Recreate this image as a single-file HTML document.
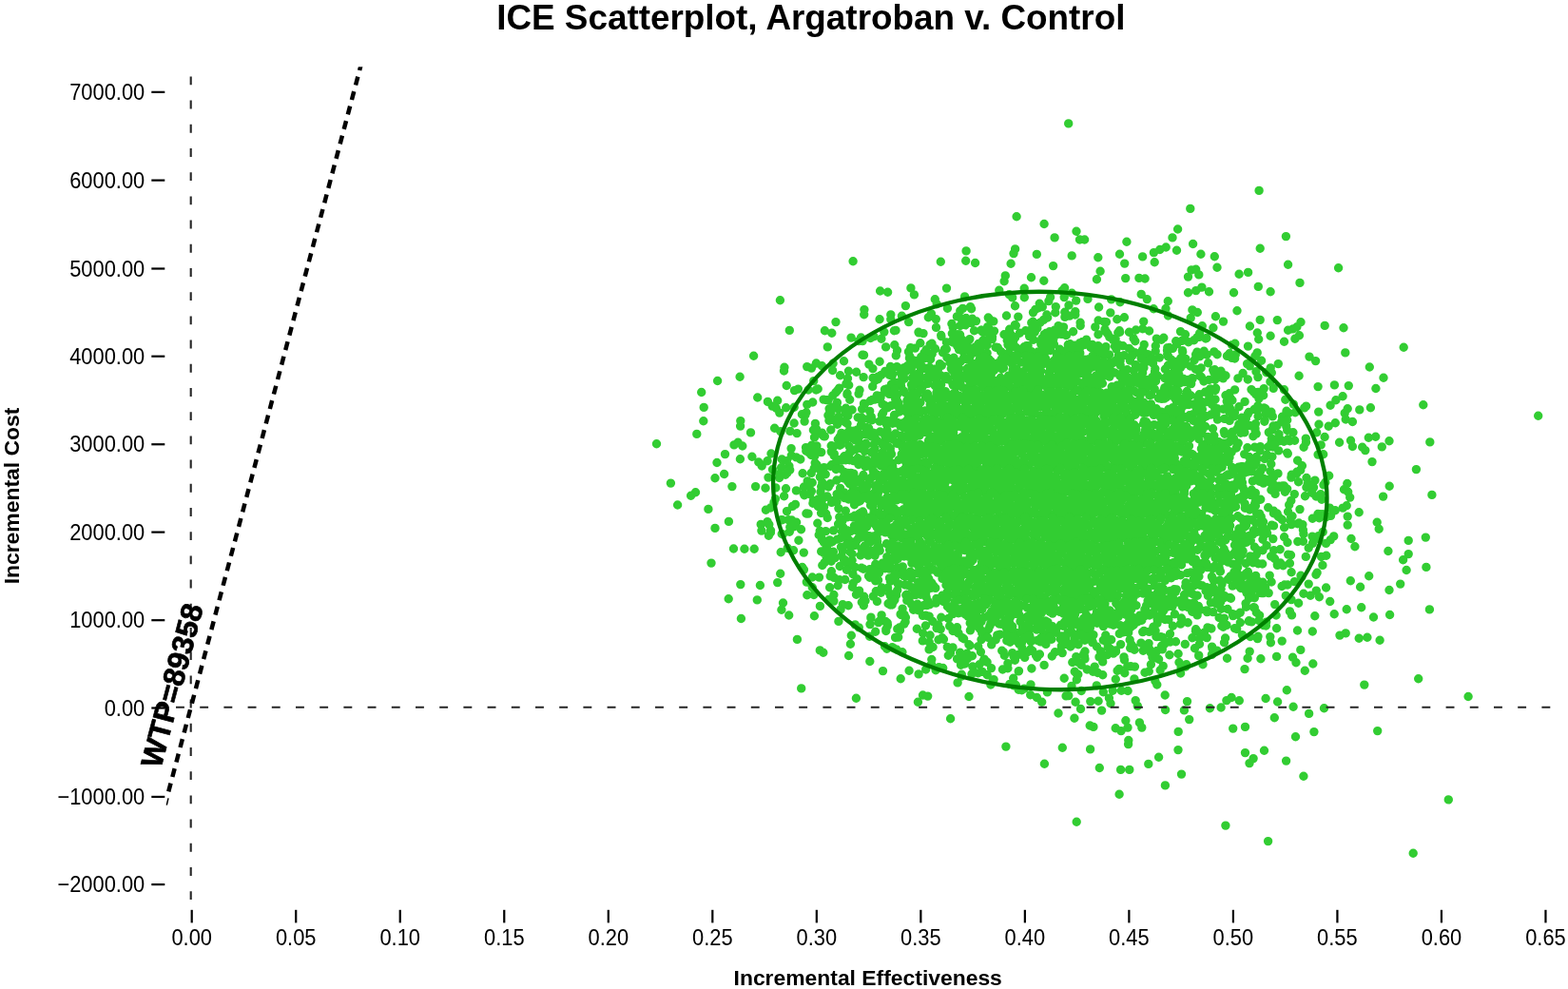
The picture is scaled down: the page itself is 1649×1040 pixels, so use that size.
<!DOCTYPE html>
<html lang="en">
<head>
<meta charset="utf-8">
<title>ICE Scatterplot, Argatroban v. Control</title>
<style>
html,body{margin:0;padding:0;background:#fff;}
body{width:1649px;height:1040px;overflow:hidden;}
svg{display:block;font-family:"Liberation Sans",sans-serif;}
.tk{font-size:23.8px;fill:#000;}
.b{font-weight:bold;fill:#000;}
</style>
</head>
<body>
<svg width="1649" height="1040" viewBox="0 0 1649 1040">
<rect width="1649" height="1040" fill="#fff"/>
<text class="b" transform="translate(852.8 30.9) scale(0.978 1)" font-size="37.7" text-anchor="middle">ICE Scatterplot, Argatroban v. Control</text>
<text class="b" transform="translate(912.7 1036.3) scale(1.017 1)" font-size="22.5" text-anchor="middle">Incremental Effectiveness</text>
<text class="b" transform="translate(20.3 521.5) rotate(-90)" font-size="22.9" text-anchor="middle">Incremental Cost</text>
<g stroke="#000" stroke-width="2.2" stroke-linecap="butt">
<line x1="159.3" y1="930.10" x2="173.3" y2="930.10"/>
<line x1="159.3" y1="837.90" x2="173.3" y2="837.90"/>
<line x1="159.3" y1="744.50" x2="173.3" y2="744.50"/>
<line x1="159.3" y1="652.20" x2="173.3" y2="652.20"/>
<line x1="159.3" y1="559.60" x2="173.3" y2="559.60"/>
<line x1="159.3" y1="467.25" x2="173.3" y2="467.25"/>
<line x1="159.3" y1="374.70" x2="173.3" y2="374.70"/>
<line x1="159.3" y1="282.50" x2="173.3" y2="282.50"/>
<line x1="159.3" y1="189.60" x2="173.3" y2="189.60"/>
<line x1="159.3" y1="96.85" x2="173.3" y2="96.85"/>
<line x1="201.70" y1="956.8" x2="201.70" y2="970.4"/>
<line x1="311.22" y1="956.8" x2="311.22" y2="970.4"/>
<line x1="420.74" y1="956.8" x2="420.74" y2="970.4"/>
<line x1="530.26" y1="956.8" x2="530.26" y2="970.4"/>
<line x1="639.78" y1="956.8" x2="639.78" y2="970.4"/>
<line x1="749.30" y1="956.8" x2="749.30" y2="970.4"/>
<line x1="858.82" y1="956.8" x2="858.82" y2="970.4"/>
<line x1="968.34" y1="956.8" x2="968.34" y2="970.4"/>
<line x1="1077.86" y1="956.8" x2="1077.86" y2="970.4"/>
<line x1="1187.38" y1="956.8" x2="1187.38" y2="970.4"/>
<line x1="1296.90" y1="956.8" x2="1296.90" y2="970.4"/>
<line x1="1406.42" y1="956.8" x2="1406.42" y2="970.4"/>
<line x1="1515.94" y1="956.8" x2="1515.94" y2="970.4"/>
<line x1="1625.46" y1="956.8" x2="1625.46" y2="970.4"/>
</g>
<g class="tk" text-anchor="end">
<text transform="translate(152.3 105.05) scale(0.92 1)">7000.00</text>
<text transform="translate(152.3 197.80) scale(0.92 1)">6000.00</text>
<text transform="translate(152.3 290.70) scale(0.92 1)">5000.00</text>
<text transform="translate(152.3 382.90) scale(0.92 1)">4000.00</text>
<text transform="translate(152.3 475.45) scale(0.92 1)">3000.00</text>
<text transform="translate(152.3 567.80) scale(0.92 1)">2000.00</text>
<text transform="translate(152.3 660.40) scale(0.92 1)">1000.00</text>
<text transform="translate(152.3 752.70) scale(0.92 1)">0.00</text>
<text transform="translate(152.3 846.10) scale(0.92 1)">−1000.00</text>
<text transform="translate(152.3 938.30) scale(0.92 1)">−2000.00</text>
</g>
<g class="tk" text-anchor="middle">
<text transform="translate(201.70 993.8) scale(0.92 1)">0.00</text>
<text transform="translate(311.22 993.8) scale(0.92 1)">0.05</text>
<text transform="translate(420.74 993.8) scale(0.92 1)">0.10</text>
<text transform="translate(530.26 993.8) scale(0.92 1)">0.15</text>
<text transform="translate(639.78 993.8) scale(0.92 1)">0.20</text>
<text transform="translate(749.30 993.8) scale(0.92 1)">0.25</text>
<text transform="translate(858.82 993.8) scale(0.92 1)">0.30</text>
<text transform="translate(968.34 993.8) scale(0.92 1)">0.35</text>
<text transform="translate(1077.86 993.8) scale(0.92 1)">0.40</text>
<text transform="translate(1187.38 993.8) scale(0.92 1)">0.45</text>
<text transform="translate(1296.90 993.8) scale(0.92 1)">0.50</text>
<text transform="translate(1406.42 993.8) scale(0.92 1)">0.55</text>
<text transform="translate(1515.94 993.8) scale(0.92 1)">0.60</text>
<text transform="translate(1625.46 993.8) scale(0.92 1)">0.65</text>
</g>
<g fill="none" stroke="#32cd32" stroke-width="9.40" stroke-linecap="round">
<path d="M1123.7 129.9h0M1324.1 200.4h0M1251.8 219.4h0M1069.1 227.8h0M1098.1 235.5h0M1238.6 241h0M1132 243.3h0M1352.4 248.6h0M1109.1 249.9h0M1233 249.9h0M1135.5 252h0M1140.6 252h0M1184.9 254.2h0M1254.6 256.5h0M1226.2 260h0M1325.2 261.2h0M1067.6 261.9h0M1219.8 262.5h0M1237.5 263.3h0M1016.1 263.9h0M1213.4 265.6h0M1066 266.6h0M1177.5 267.2h0M1262.9 267.2h0M1090.3 267.4h0M1127.2 268.9h0M1277.3 269.7h0M1201.6 269.9h0M1154.8 270.7h0M1015.7 274.2h0M897.1 274.8h0M989.3 275.3h0M1214.2 275.7h0M1025.6 276.5h0M1182.7 277.1h0M1063.1 277.3h0M1354.6 278.2h0M1107.6 279.6h0M1280 281.2h0M1407.6 281.8h0M1257.7 283.3h0M1253 283.9h0M1157.1 285.2h0M1312.6 286.4h0M1303.1 288.2h0M1260.8 288.9h0M1057.3 289.9h0M1249.5 291.1h0M1084.5 291.8h0M1197.9 292.4h0M1183.7 292.6h0M1204.1 293h0M1153.4 293.8h0M1097.8 295.3h0M1056.1 295.7h0M1367 297.4h0M1323.3 301.4h0M1263.9 302.1h0M1119.6 302.7h0M957.9 302.9h0M995.5 303.1h0M1077.2 303.2h0M1050.8 305.3h0M1257.7 305.6h0M1116.9 305.7h0M925.6 306h0M1271.5 306.8h0M1336.1 306.8h0M933.6 307.2h0M1249.5 307.8h0M1297.5 307.8h0M1127.2 308.3h0M1200.2 309.4h0M1061.3 309.8h0M961.4 309.9h0M1014.6 311.9h0M1104.6 312.5h0M1119.2 312.6h0M1077.3 312.8h0M1064.7 312.9h0M1144 314.4h0M1206.3 314.6h0M983.3 314.8h0M1168.7 314.9h0M820.4 315.7h0M1131.7 316.1h0M1102.9 316.6h0M1228.3 316.8h0M1178 317.8h0M1093.2 319.2h0M985.2 319.7h0M1124 321h0M952.4 321.6h0M1067.5 321.7h0M1110.3 322.6h0M1020.5 322.6h0M1096.3 322.7h0M1155.6 323h0M1092.3 323.8h0M996.4 324.3h0M1012.5 324.4h0M1226 324.5h0M1213.2 324.7h0M1021.6 324.8h0M1088.8 325.5h0M908.9 325.6h0M1253.9 325.9h0M1301 326.7h0M1009.8 326.9h0M1130.8 327.6h0M1119.8 328.2h0M1259.3 328.5h0M1086.5 328.6h0M1109.8 328.8h0M1167.8 328.9h0M979.4 329.9h0M908.7 330.7h0M936.8 330.9h0M1130.8 331h0M1100.9 331h0M1058.5 332h0M1228.5 332h0M1124.9 332.1h0M948.4 332.2h0M1278.4 332.8h0M1006.4 332.9h0M1070.8 333.1h0M1119.9 333.4h0M1182.4 333.7h0M976.3 333.8h0M1101.7 334h0M1039.3 334h0M1039.3 334.1h0M1252.2 334.4h0M1016 334.5h0M1040 334.9h0M1022.6 335.2h0M1011.1 335.4h0M984.3 335.6h0M925.1 335.7h0M936.8 335.8h0M1174.8 335.8h0M1097.5 336.4h0M1325.2 336.4h0M1343.3 336.6h0M1155.1 337h0M1026.5 337.6h0M1044.8 337.9h0M1202.7 338.1h0M1286.5 338.1h0M1086.3 338.2h0M1161.2 338.5h0M879 338.6h0M955.6 338.6h0M1163.4 338.6h0M1368 338.7h0M1093.9 339.2h0M1136.1 339.3h0M1084.8 339.4h0M1021.6 339.6h0M1000.9 340.5h0M1067.4 341.6h0M1015.3 341.8h0M1068.3 342.2h0M1393.2 342.4h0M1136.2 342.5h0M1009.8 342.5h0M1113.1 342.6h0M1264.3 342.8h0M1314.4 343h0M1038.7 343.6h0M1363.9 343.8h0M1151.8 343.9h0M1118.5 343.9h0M1002.2 344.2h0M984.5 344.4h0M1275.9 344.8h0M1413 344.8h0M1090.8 345.2h0M1201.7 345.8h0M1359.8 345.9h0M1040.3 346h0M1061.7 346.2h0M1162 346.4h0M1084.6 346.5h0M1194.6 347h0M1108.9 347.3h0M1032.2 347.3h0M1031.8 347.3h0M1354.6 347.3h0M942 347.4h0M1117.7 347.4h0M830.3 347.4h0M1031.6 347.5h0M1177.3 347.8h0M1078.6 347.8h0M1024.5 347.8h0M867.4 347.8h0M940.4 347.8h0M1208.6 348h0M1045.5 348.1h0M1103.9 348.6h0M1241.5 348.6h0M1128.6 348.8h0M1088.3 349.1h0M1163.5 349.1h0M929.8 349.1h0M966 349.2h0M1177.7 349.2h0M1187.5 349.2h0M1033.6 349.3h0M966.3 349.9h0M1175.8 349.9h0M1322.3 350h0M1100.5 350.1h0M1039.1 350.1h0M1072.4 350.2h0M874.8 350.3h0M1261.6 350.5h0M971 350.6h0M1001.3 350.8h0M1165.1 351.2h0M1115.9 351.4h0M1062.9 351.6h0M1098.3 351.6h0M1056 351.7h0M1246.5 351.7h0M1155 351.8h0M1007.2 351.8h0M1110.9 351.9h0M1009.6 352h0M1120.9 352.5h0M989.7 352.5h0M1121.5 352.5h0M1366.4 352.7h0M1104.5 353h0M1336.1 353.3h0M1082.6 353.6h0M989.9 353.7h0M918.9 353.9h0M1043.5 354.2h0M1261.4 354.4h0M1166.8 354.4h0M1259.1 354.6h0M1067.6 354.9h0M905.5 355h0M895.1 355.1h0M1223.8 355.2h0M915.5 355.5h0M1268.9 355.5h0M1095.8 355.8h0M1192.1 355.9h0M1268 356h0M1216.3 356.1h0M1361.9 356.2h0M926.9 356.2h0M1107.8 356.4h0M1173.1 356.4h0M1043.4 356.6h0M1019.8 356.6h0M1323.7 356.8h0M1011.6 357h0M1142.5 357.1h0M1221.4 357.2h0M1002.1 357.2h0M1086.8 357.3h0M1004.2 357.4h0M1170.8 357.7h0M1039.1 357.7h0M1255.7 357.8h0M1018.8 357.9h0M1059.2 358h0M1065.7 358h0M1033.8 358h0M1104.9 358.2h0M1098.4 358.4h0M1243 358.4h0M903.1 358.6h0M907.1 358.6h0M1236.7 358.8h0M1193.8 358.8h0M1350.5 359.3h0M1138.5 359.4h0M1249.9 359.7h0M1002.1 360h0M995.4 360h0M1011.3 360.8h0M1135.5 360.8h0M967.8 360.8h0M1094.8 360.9h0M980 361.2h0M1298.8 361.3h0M1029 361.5h0M1237.8 361.7h0M1125.4 361.8h0M1094.8 362h0M1108.4 362h0M978.2 362.4h0M1203.2 362.4h0M1123.3 362.5h0M1148.9 362.5h0M1140.1 362.6h0M1060 362.6h0M1176.6 362.6h0M940.8 362.8h0M1295.6 362.8h0M1038.1 362.9h0M1066.3 363.1h0M1130.2 363.3h0M1154.9 363.6h0M1081.1 363.6h0M1079.3 363.7h0M1181 363.8h0M1215.3 363.8h0M1006.8 363.9h0M1312.5 364.1h0M1172.5 364.3h0M1163 364.6h0M1077.1 364.7h0M931.6 364.9h0M870.3 364.9h0M1025.5 365h0M1476.2 365.2h0M1047.1 365.2h0M1229.6 365.5h0M1147.1 365.5h0M1049.3 365.5h0M1227.8 365.6h0M957.6 365.6h0M1017.6 365.7h0M1062.4 365.8h0M1101.9 365.8h0M1069.2 366h0M962.4 366.1h0M1019.5 366.2h0M1162.5 366.2h0M1187.4 366.4h0M1233.3 366.4h0M1031.1 366.6h0M1123 366.6h0M983.5 366.8h0M1174 367.1h0M1114.5 367.2h0M995.3 367.3h0M1135.2 367.4h0M993.4 367.4h0M1008.5 367.6h0M974.1 367.8h0M1201.6 367.8h0M1017.7 368.1h0M1159.9 368.2h0M1227.5 368.4h0M1153 368.5h0M1104.7 368.5h0M943.5 368.5h0M1243.4 368.6h0M1095.7 368.9h0M1190 369h0M1012.5 369.2h0M1266.2 369.2h0M1128.4 369.2h0M1215.2 369.3h0M1071.8 369.5h0M1084.6 369.6h0M1052.5 369.6h0M1276.8 369.9h0M955.5 369.9h0M1091.7 370h0M1243.7 370.1h0M1259 370.1h0M1029.1 370.5h0M1193.4 370.7h0M991.5 370.8h0M1322.2 370.9h0M1024.4 370.9h0M1414.8 370.9h0M972 371.1h0M1038.1 371.3h0M1135.8 371.4h0M1198.7 371.5h0M1116.7 371.5h0M1078 371.5h0M1293 371.7h0M1112 371.8h0M1156.2 372.1h0M980.2 372.2h0M1191.7 372.3h0M1057.3 372.4h0M1227.7 372.6h0M1161.5 372.6h0M1207.1 372.6h0M1257.6 372.7h0M1280.1 372.7h0M1098.1 372.8h0M1299.3 372.9h0M1269.2 372.9h0M1166.4 372.9h0M1268.8 373h0M1062.4 373.2h0M907 373.3h0"/>
<path d="M908.5 373.4h0M1132.7 373.7h0M1182.1 373.7h0M942.3 373.9h0M1070 373.9h0M1176.2 374h0M1149.1 374.1h0M1111.4 374.1h0M1067.3 374.2h0M792.6 374.2h0M1190.7 374.3h0M1078.5 374.3h0M1290.5 374.4h0M1319.9 374.5h0M1124.3 374.5h0M1083.5 374.7h0M1261.9 374.7h0M1092 374.8h0M1228.5 374.9h0M956.8 374.9h0M1377 375.1h0M1020 375.3h0M968.7 375.4h0M1035 375.4h0M996 376h0M1219.3 376.1h0M1013.7 376.1h0M1003.1 376.3h0M1295.5 376.4h0M1057.5 376.4h0M956.4 376.6h0M1200.1 376.6h0M1211.4 376.7h0M972.3 376.7h0M1241.7 376.7h0M1298.6 377h0M1099.7 377.3h0M1115.8 377.3h0M1246.9 377.4h0M1016.6 377.4h0M1030.3 377.6h0M978.1 377.6h0M1053.1 377.7h0M1144.8 377.8h0M978.6 377.8h0M1040.3 378h0M1153.4 378h0M1231.9 378.2h0M1140.8 378.3h0M1065 378.7h0M1256.1 378.8h0M1188.4 379.1h0M961.5 379.1h0M1108.5 379.2h0M1326.6 379.2h0M1127.3 379.3h0M1172.8 379.4h0M1098.5 379.5h0M1178.1 379.6h0M1383.6 379.6h0M887.5 379.7h0M1084.4 379.8h0M1138.7 379.9h0M1206.7 379.9h0M1160.8 379.9h0M1042.1 379.9h0M1010.5 380h0M925.1 380.2h0M1238.2 380.3h0M1119.5 380.6h0M1080.4 380.6h0M1062.9 380.6h0M1028.4 381h0M1139.2 381.1h0M1073 381.1h0M999 381.3h0M1167 381.5h0M1170.7 381.5h0M1034.2 381.5h0M1115.4 381.5h0M1049.8 381.6h0M1270.6 381.8h0M1090.7 381.9h0M1212.5 382h0M858.4 382h0M1132.3 382.1h0M1022.2 382.1h0M1055.3 382.2h0M968 382.3h0M876.1 382.3h0M988.4 382.6h0M1344.3 382.6h0M1311.6 382.6h0M1025.1 382.6h0M1097.4 382.7h0M1064.4 382.8h0M1146.4 383h0M1104.7 383h0M913.9 383.1h0M1244.6 383.3h0M1154.7 383.8h0M1194.2 383.8h0M1134.3 383.9h0M1005 383.9h0M1084.8 384h0M960.4 384h0M1178.2 384.1h0M1236.6 384.2h0M1228.4 384.3h0M990.3 384.4h0M1106.7 384.6h0M954.3 384.7h0M967.3 384.7h0M864.4 384.8h0M1201.3 384.9h0M1314.2 384.9h0M1117.2 384.9h0M1251.9 385h0M1162.9 385.3h0M936.4 385.5h0M848.7 385.6h0M943.2 385.6h0M1092.2 385.7h0M1166.9 385.7h0M1123.6 385.9h0M1033.4 386h0M1440.3 386h0M1055.2 386.1h0M824.9 386.2h0M1148.2 386.3h0M977.7 386.4h0M1027 386.4h0M1194.8 386.5h0M1036.1 386.6h0M1018 386.7h0M1241.4 386.7h0M1202.9 386.8h0M1336.2 386.9h0M1055.4 386.9h0M1263.1 387h0M950.3 387h0M972.8 387.1h0M853.4 387.1h0M1079.6 387.3h0M1008.5 387.3h0M1018.3 387.3h0M1039 387.4h0M971.2 387.5h0M1000.3 387.6h0M917.9 387.6h0M1045.7 387.6h0M1104.6 387.6h0M1214.8 387.8h0M1016.9 387.9h0M984.1 388h0M1109.9 388h0M1053.6 388h0M1257.4 388.2h0M1225.4 388.3h0M1140.9 388.5h0M1235.7 388.5h0M1127.4 388.5h0M958.2 388.6h0M1069.3 388.6h0M1277.5 388.7h0M1185.5 388.7h0M1065.1 388.8h0M1001.2 389h0M1156 389h0M986.3 389.1h0M1275.7 389.1h0M1144.5 389.2h0M1045.4 389.5h0M875.6 389.5h0M1122 389.7h0M1192.4 389.8h0M824.5 390h0M1040.5 390.1h0M1094.8 390.2h0M1284 390.2h0M892.4 390.3h0M1135.4 390.4h0M930.7 390.5h0M1002.9 390.6h0M952.4 390.7h0M1321 390.8h0M1214.5 390.8h0M1003.5 390.8h0M1169.9 391h0M1075.7 391h0M900.6 391.2h0M1103.4 391.4h0M1276.7 391.6h0M1086.9 391.7h0M1331.9 391.8h0M1172.2 391.9h0M1158.9 391.9h0M1337.3 392h0M1201.6 392.1h0M977.4 392.1h0M1180 392.2h0M983.7 392.3h0M1113.9 392.3h0M1025.2 392.4h0M966.4 392.4h0M947.5 392.4h0M1307.1 392.5h0M1138.7 392.5h0M1029.3 392.6h0M1017.8 393h0M1134.5 393.1h0M1231.5 393.2h0M938.8 393.3h0M1116.6 393.4h0M1233.8 393.5h0M1122.5 393.6h0M1239.8 393.9h0M1103.6 393.9h0M1068 394h0M1181.3 394.1h0M935.3 394.2h0M1163.7 394.3h0M966.8 394.4h0M1042.2 394.5h0M926.7 394.5h0M1011.9 394.6h0M1143.6 394.7h0M883.6 394.7h0M1084.2 394.8h0M964.1 394.9h0M1162.4 394.9h0M989.4 394.9h0M1289 395h0M1060.6 395.1h0M1261.9 395.1h0M1004.1 395.2h0M1227.8 395.2h0M1152.3 395.2h0M1366.1 395.3h0M1217.5 395.3h0M1112.2 395.3h0M938.1 395.3h0M1033.7 395.3h0M1178 395.4h0M994.9 395.7h0M1025.9 395.8h0M948.7 395.8h0M1078.2 395.9h0M1127.7 395.9h0M1194.2 396h0M1094.2 396h0M986.8 396.1h0M1166.9 396.1h0M778.1 396.2h0M923.2 396.3h0M1212 396.4h0M1263.4 396.5h0M1322.9 396.6h0M908.1 396.6h0M1087.6 396.7h0M1281.3 396.8h0M974.4 397h0M959.7 397.1h0M981.3 397.2h0M1052.3 397.2h0M1455 397.3h0M918.1 397.4h0M1144.6 397.4h0M1187 397.4h0M1253.9 397.6h0M1102.2 397.7h0M1224.9 397.7h0M949 397.8h0M1286.3 397.9h0M1112.1 397.9h0M1301.9 397.9h0M891.5 398h0M983.4 398h0M994.2 398.1h0M1244.3 398.1h0M1073.6 398.2h0M951.2 398.2h0M1142.3 398.5h0M1067.3 398.5h0M1254 398.5h0M1202 398.7h0M923.3 398.7h0M996.6 398.9h0M1312.3 399h0M1155.1 399h0M1018.7 399.1h0M1277.8 399.2h0M966.4 399.2h0M1249.3 399.4h0M1206.6 399.4h0M1104.8 399.4h0M1271.5 399.4h0M1081.4 399.9h0M920.2 400.2h0M1128.1 400.3h0M1132.7 400.5h0M1046.6 400.5h0M754.6 400.5h0M1095.7 400.6h0M855.7 400.6h0M1215.5 400.7h0M1235.6 400.8h0M1116.6 400.8h0M1010.1 400.9h0M1266 401h0M1122.7 401.2h0M1180.4 401.3h0M1038.1 401.4h0M1335.9 401.4h0M1245.7 401.6h0M1230.3 402h0M1139.9 402.2h0M1056.3 402.2h0M1102.5 402.2h0M1147.5 402.2h0M1030.2 402.3h0M1190.9 402.3h0M1078.2 402.4h0M947.4 402.4h0M943.3 402.5h0M1089.6 402.5h0M961.4 402.8h0M1189.1 402.8h0M1240.8 402.9h0M1048.6 402.9h0M1250.7 402.9h0M1186.9 402.9h0M1055 403h0M1061.3 403.1h0M1197.5 403.2h0M1159.4 403.3h0M1023 403.3h0M975.9 403.4h0M889.9 403.6h0M1001.9 403.6h0M1252.7 403.6h0M1004.4 403.7h0M1020.3 404h0M937.5 404.1h0M1238.6 404.1h0M989.7 404.4h0M1138.6 404.4h0M1070.5 404.5h0M958.5 404.5h0M1107.3 404.8h0M971.3 404.9h0M1403.4 404.9h0M1228.3 405h0M892.7 405h0M1002.4 405.2h0M1174.8 405.2h0M1209.5 405.2h0M827.2 405.5h0M1094.2 405.5h0M1418.3 405.6h0M967.6 405.6h0M983.4 405.7h0M1200.9 406h0M1039.7 406h0M1178.5 406.1h0M1113.7 406.2h0M1060.3 406.2h0M947.6 406.2h0M1005.6 406.3h0M1084.5 406.3h0M917.7 406.4h0M1153.9 406.5h0M1386.1 406.6h0M1169.2 406.7h0M1122.4 406.9h0M1044.7 406.9h0M969.7 407.4h0M1012.2 407.4h0M1032.7 407.4h0M1062.8 407.6h0M1224.9 407.6h0M1130 408h0M1144.8 408.1h0M882.7 408.1h0M1205.8 408.2h0M959.1 408.3h0M1278.6 408.3h0M1339.2 408.4h0M1446.9 408.5h0M1101.6 408.5h0M1227 408.6h0M1083 408.6h0M1329.2 408.6h0M1272.8 408.9h0M1016.1 408.9h0M987.7 408.9h0M1137.6 409h0M932.6 409h0M860.2 409h0M839.4 409.1h0"/>
<path d="M1214.2 409.1h0M941 409.5h0M1316 409.6h0M930.4 409.6h0M1234.6 409.7h0M1091.7 409.8h0M1350.5 409.8h0M1298.6 409.9h0M850.1 410h0M1224.2 410h0M858.2 410h0M1025.7 410h0M904 410.2h0M967.5 410.2h0M1132.7 410.2h0M1051 410.2h0M1278 410.5h0M1075.7 410.5h0M1039.7 410.6h0M1184.2 410.6h0M835.5 410.6h0M1192.5 410.7h0M1048.4 410.8h0M1055.5 410.8h0M880.4 411h0M950.3 411.1h0M1187.3 411.2h0M1020.2 411.3h0M1248.4 411.5h0M1142.7 411.5h0M1270 411.6h0M1112.9 411.6h0M994.3 411.6h0M1067.8 411.6h0M1175.2 411.8h0M1239.1 411.8h0M1150 411.9h0M1105.8 412h0M1170.5 412h0M1318.5 412.2h0M1103.2 412.3h0M1072.1 412.3h0M991 412.3h0M1267.4 412.3h0M1119.7 412.4h0M1323.1 412.4h0M737.7 412.5h0M1156.9 412.6h0M1195.4 412.6h0M1200.8 412.6h0M879 412.6h0M985 412.7h0M951.4 412.8h0M1164 413.1h0M1004.4 413.1h0M1040.2 413.2h0M1089.3 413.3h0M1027 413.3h0M1222 413.4h0M891 413.7h0M1292.8 413.8h0M1127.9 414h0M903.1 414.1h0M1002.6 414.1h0M959.8 414.1h0M975.5 414.3h0M935.2 414.4h0M1220.6 414.5h0M964.7 414.6h0M1320.8 414.7h0M1015.6 414.7h0M1261.3 414.8h0M890.9 414.9h0M943.5 415.1h0M1068.4 415.1h0M1095.6 415.1h0M1247.6 415.2h0M1138 415.3h0M1210.7 415.3h0M939.8 415.3h0M1057.7 415.4h0M1271.6 415.5h0M1199.1 415.5h0M1251.9 415.6h0M1208.8 415.6h0M975.9 415.6h0M1034 415.6h0M1001.8 415.7h0M1328.7 415.8h0M1289 415.8h0M1063.8 415.9h0M922.3 415.9h0M1111.4 415.9h0M1229.6 416h0M875.8 416h0M1160.8 416.1h0M1118.4 416.1h0M926.2 416.2h0M1008.8 416.2h0M1181.5 416.2h0M1260.3 416.4h0M1081 416.5h0M1086.2 416.6h0M1412.1 416.7h0M1120.4 416.9h0M973.4 417h0M1077.7 417h0M1187.2 417.2h0M1018.6 417.2h0M1052.5 417.4h0M1046.7 417.6h0M995.1 417.8h0M1226.4 418h0M1167.7 418h0M796.7 418h0M926 418.1h0M1035.1 418.3h0M1152.5 418.3h0M1064.5 418.3h0M1137.2 418.3h0M1148.6 418.6h0M1026.4 418.6h0M1218.4 418.8h0M1271.8 418.9h0M955 419h0M1235.8 419h0M1294.3 419h0M1323.9 419.1h0M1224.5 419.1h0M1129.7 419.2h0M1260 419.4h0M1241.8 419.4h0M1221.8 419.4h0M1102.3 419.6h0M981.3 419.7h0M1173.8 419.7h0M976.8 419.8h0M961.5 419.8h0M925 419.8h0M1145.2 419.9h0M941.7 419.9h0M1111.4 419.9h0M1278 419.9h0M1011.5 419.9h0M1018.9 420h0M1248.5 420h0M1106.9 420.1h0M1184.3 420.1h0M919.9 420.1h0M988.3 420.1h0M866.1 420.1h0M1351.8 420.3h0M893.7 420.3h0M1082.9 420.3h0M1059.3 420.3h0M871.2 420.4h0M1074.9 420.4h0M917.3 420.5h0M1043.6 420.5h0M869.1 420.6h0M1404.9 420.8h0M1295.9 421h0M1007.6 421.2h0M953.9 421.2h0M817.7 421.3h0M1030.5 421.4h0M1190.3 421.4h0M915.4 421.5h0M1237.2 421.6h0M943.5 421.6h0M1142 421.7h0M1093.1 421.8h0M1161.4 422h0M1017.6 422.1h0M1290.2 422.1h0M1097.6 422.1h0M1263.2 422.1h0M1195.5 422.2h0M1144.7 422.2h0M1125.1 422.2h0M807.4 422.4h0M1309.1 422.4h0M1155.7 422.6h0M1069.1 422.6h0M1128.6 422.7h0M1039.1 422.9h0M1267.4 423h0M854.7 423h0M1001 423h0M963.7 423.1h0M1134.6 423.1h0M1202.8 423.2h0M967.9 423.3h0M880.4 423.4h0M1015.3 423.4h0M1053.2 423.5h0M1118.6 423.7h0M944.9 423.7h0M1124.4 424h0M1262.3 424.2h0M1179.5 424.3h0M908.5 424.4h0M1049.7 424.5h0M1060.2 424.7h0M1005.6 424.9h0M928 424.9h0M1210.4 424.9h0M1087.3 425h0M1000.6 425h0M909.4 425h0M1360.3 425.1h0M1254.6 425.2h0M1042.1 425.2h0M978.2 425.2h0M1147.7 425.3h0M1274.5 425.3h0M848.8 425.4h0M992.4 425.5h0M1250.3 425.5h0M1026 425.5h0M879.5 425.7h0M1496.8 425.8h0M1205.3 425.8h0M988.6 425.8h0M1078.5 425.9h0M1246 425.9h0M1030.4 425.9h0M1399.1 426.2h0M1191.6 426.3h0M1109.9 426.3h0M930.4 426.4h0M1168.1 426.5h0M937 426.6h0M958 426.7h0M954 426.8h0M1322.8 426.9h0M944 427h0M1101.7 427h0M1373.6 427.1h0M812.2 427.1h0M1072.9 427.5h0M1197.6 427.6h0M983.6 427.6h0M1292.7 427.7h0M1303 427.8h0M1171.4 427.8h0M1094.2 428h0M1243.2 428h0M1277.1 428.1h0M835.2 428.2h0M740.2 428.4h0M1234.5 428.5h0M1117.6 428.5h0M874.6 428.5h0M1184.5 428.6h0M1441.4 428.7h0M933.5 428.7h0M1055.1 428.7h0M1233.2 428.8h0M826.7 428.8h0M1371.8 428.9h0M1132.6 429h0M1329.3 429h0M996.3 429h0M1137.3 429.1h0M816.3 429.2h0M889.6 429.2h0M1151.9 429.2h0M1064.2 429.4h0M965.9 429.4h0M1280.3 429.7h0M1330.8 429.7h0M1417.2 429.7h0M872.1 429.7h0M1110.2 429.7h0M1216.1 429.7h0M1018.6 429.8h0M1012.9 429.9h0M1119.8 429.9h0M881.6 430h0M1293.9 430h0M1034.8 430h0M1164.6 430h0M949.6 430h0M1258.4 430.1h0M1160 430.1h0M906.6 430.2h0M1286.5 430.3h0M1140.1 430.3h0M1319.2 430.4h0M1322.8 430.4h0M1241.9 430.5h0M1228.8 430.5h0M1264.4 430.5h0M1177.9 430.6h0M995 430.6h0M1070.5 430.7h0M1210.8 430.9h0M1429.8 430.9h0M1126.3 431h0M1193.2 431h0M896.1 431h0M1020.3 431h0M1007.9 431.1h0M1083.3 431.2h0M960.6 431.4h0M1045 431.5h0M1147.5 431.6h0M1158.6 431.6h0M951.2 431.7h0M973 431.9h0M978.9 432.1h0M1353 432.2h0M1003.9 432.2h0M990.1 432.2h0M914.7 432.4h0M1027.8 432.7h0M1168.7 432.9h0M1261.3 432.9h0M1200.5 432.9h0M1048.1 433h0M945.9 433h0M1386.7 433.1h0M1011.1 433.1h0M1221.4 433.1h0M1037.9 433.2h0M1241.6 433.2h0M1088 433.2h0M1336.9 433.2h0M1080 433.2h0M1062.5 433.4h0M1113.3 433.4h0M1292.9 433.5h0M1313.3 433.5h0M1362.1 433.8h0M847.9 433.8h0M967.4 433.9h0M872.5 433.9h0M1138.3 433.9h0M1205.8 434h0M1152.2 434.1h0M1202.2 434.1h0M1298.4 434.1h0M819.8 434.1h0M954.2 434.2h0M1016.8 434.3h0M873.8 434.3h0M928.6 434.3h0M1331.1 434.4h0M1184.8 434.4h0M1414.2 434.4h0M1355.3 434.4h0M1072 434.5h0M1106.3 434.6h0M889.1 434.6h0M1099.9 434.7h0M1055.2 434.9h0M1334.8 435h0M999.9 435h0M1194.6 435.1h0M983.9 435.2h0M1278.9 435.2h0M1172.6 435.3h0M1312.3 435.4h0M1129.4 435.5h0M1229.9 435.6h0M1254.5 435.7h0M843.4 435.8h0M1052.1 435.9h0M1273.6 436h0M1193.8 436.2h0M1035.1 436.2h0M846.9 436.3h0M1112 436.3h0M1213.4 436.4h0M940.5 436.5h0M1122.3 436.5h0M927.4 436.6h0M1250.9 436.7h0M959.4 436.7h0M870.9 436.8h0M1237 436.9h0M1021.5 436.9h0M1085.7 436.9h0M1143.9 437h0M1007 437.1h0M983 437.1h0M1094 437.1h0M891.8 437.2h0M1184.4 437.2h0M1617.7 437.3h0M1268.6 437.7h0M1298.3 437.7h0M992.1 437.8h0M1323.1 437.8h0M1042.8 437.8h0M1169.4 437.8h0M1160.9 437.8h0M1338.3 437.9h0M1348.5 438.2h0"/>
<path d="M881.9 438.2h0M916.3 438.4h0M1114.5 438.6h0M996.6 438.7h0M1120.1 438.7h0M1220.5 438.7h0M1225.2 438.8h0M1262.7 438.8h0M1246.1 438.8h0M1067.3 438.9h0M1137.6 438.9h0M902.2 439h0M906 439h0M1012.4 439.2h0M1305.9 439.2h0M1170.9 439.2h0M1178.6 439.4h0M1249.6 439.4h0M1029.9 439.6h0M1074.3 439.9h0M963.4 440h0M974.3 440.1h0M1130.6 440.2h0M1310.3 440.2h0M1287.7 440.4h0M907.7 440.4h0M1188.8 440.4h0M913.5 440.5h0M1062.1 440.5h0M1264.6 440.6h0M1141.1 440.6h0M939.4 440.6h0M1044.7 440.7h0M978.7 440.7h0M1095.1 440.7h0M1242 440.8h0M972 440.9h0M954.5 441h0M1415.2 441h0M1280.4 441.1h0M1099.5 441.2h0M1051.8 441.3h0M1147.8 441.4h0M917.1 441.7h0M877 441.7h0M1353.7 441.7h0M1085.3 441.9h0M958.9 441.9h0M1002.1 442.1h0M1330.1 442.1h0M1105.2 442.1h0M1106.6 442.2h0M1152.8 442.2h0M871.9 442.3h0M1255.1 442.4h0M932.8 442.4h0M1293.1 442.4h0M1233.5 442.5h0M1079.8 442.5h0M778.8 442.6h0M971.4 442.7h0M1126.6 442.8h0M1016.6 442.8h0M739.8 442.8h0M1036 442.8h0M1203.3 442.9h0M1203.2 443h0M1023.7 443.1h0M846.1 443.1h0M925.2 443.1h0M1329.8 443.2h0M985.9 443.2h0M1257 443.2h0M888.1 443.3h0M1347.8 443.3h0M1130.6 443.4h0M1422.4 443.5h0M1205.4 443.6h0M1226.9 443.8h0M1057.7 443.9h0M889 444h0M1041.8 444h0M951.7 444h0M943.4 444.1h0M1164.2 444.2h0M1090.5 444.3h0M972.3 444.3h0M1113.7 444.3h0M1160.6 444.7h0M1404.3 444.7h0M1172.1 444.9h0M835.1 445h0M943.4 445h0M1182.7 445.1h0M938.7 445.3h0M947.9 445.3h0M857.4 445.4h0M1009 445.4h0M1202.5 445.5h0M891 445.5h0M1139.1 445.5h0M1320.4 445.6h0M1225.8 445.7h0M1307.2 445.8h0M992.3 445.9h0M1083.5 445.9h0M1073.2 445.9h0M1241.6 446.1h0M1065.6 446.1h0M1302.9 446.2h0M1387 446.2h0M880.6 446.3h0M1034.4 446.4h0M1120.8 446.4h0M1207.8 446.5h0M932.5 446.5h0M1219.4 446.6h0M1213.8 446.6h0M1130.7 446.8h0M1143.5 446.8h0M1192.8 446.8h0M1175.2 446.8h0M1032.1 446.9h0M996.8 446.9h0M1095.6 447.1h0M1049.9 447.1h0M905.5 447.1h0M1259.9 447.1h0M1159 447.2h0M964.3 447.3h0M1117.5 447.4h0M1148.3 447.4h0M1314 447.5h0M1343.1 447.6h0M980.2 447.6h0M962.4 447.8h0M1339.1 448h0M1341.2 448h0M946.9 448.1h0M1055.4 448.1h0M1186.1 448.1h0M778.6 448.1h0M1107.1 448.2h0M1397.2 448.3h0M985.2 448.4h0M1126.2 448.4h0M1352.8 448.4h0M1247.6 448.4h0M1267.5 448.4h0M1006.4 448.5h0M1010.6 448.7h0M957.3 448.7h0M1018 448.8h0M1194.5 448.8h0M1101.7 448.9h0M966.9 448.9h0M1307.9 449.1h0M949.8 449.2h0M973.3 449.2h0M1243.1 449.2h0M1235.1 449.3h0M1161.8 449.3h0M910.6 449.4h0M1002 449.4h0M1087.5 449.4h0M1111.7 449.7h0M1302 449.8h0M1028.5 449.9h0M983 450h0M913.6 450.2h0M952.7 450.2h0M814.6 450.2h0M1079.1 450.4h0M1059.4 450.5h0M1320 450.6h0M1158 450.7h0M1275.5 450.7h0M1021.4 450.9h0M1301.2 450.9h0M1136.3 450.9h0M1075.8 451.1h0M1153.8 451.1h0M993.4 451.3h0M858.6 451.4h0M1130.4 451.5h0M1169.9 451.5h0M1232.9 451.8h0M1194.9 451.8h0M1181.4 451.8h0M1039.4 451.8h0M1094.6 451.8h0M901.9 451.9h0M1044 452h0M1264.5 452h0M873.8 452h0M1337.8 452h0M1224.6 452.1h0M1207.1 452.1h0M1032 452.1h0M1320 452.2h0M1250.8 452.2h0M1204.5 452.3h0M855.4 452.3h0M932.9 452.4h0M1353.7 452.5h0M1148.7 452.6h0M1220 452.7h0M893.4 452.8h0M996.2 452.9h0M1188.8 453h0M1255.4 453h0M985.9 453h0M897.9 453.2h0M1038 453.2h0M1087.1 453.2h0M1126.4 453.2h0M1068.6 453.3h0M830.9 453.4h0M1062.6 453.6h0M1145.1 453.6h0M1194.1 453.7h0M820.9 453.7h0M1287.3 453.8h0M1079.3 453.8h0M1119.2 454h0M925.5 454h0M1296.2 454.1h0M971.8 454.2h0M1024.3 454.2h0M1163.4 454.4h0M891.9 454.5h0M1002.7 454.6h0M1334.3 454.6h0M1070.1 454.6h0M1359.9 454.7h0M1015.1 454.7h0M1384.7 454.8h0M1179.2 454.8h0M1308.9 454.8h0M1138.5 454.8h0M1052.7 454.8h0M789.5 454.9h0M864.4 455.1h0M918.3 455.1h0M955.6 455.1h0M1304.8 455.2h0M1114.5 455.3h0M884.9 455.4h0M1211.9 455.5h0M975.8 455.5h0M838.1 455.6h0M1245.3 455.6h0M1228.6 455.7h0M1031.3 455.7h0M1237.6 455.8h0M919.9 455.8h0M1263.8 455.9h0M941.8 456h0M1175.5 456.1h0M1321.2 456.1h0M860 456.2h0M1287.9 456.2h0M1029.8 456.3h0M732.8 456.4h0M961.9 456.4h0M1102 456.5h0M909.5 456.5h0M1044.8 456.5h0M1202.9 456.6h0M1345 456.6h0M1243.5 456.9h0M1132.8 457h0M1106.2 457h0M912.2 457h0M1090.3 457.2h0M985.2 457.5h0M1260.2 457.5h0M993 457.5h0M1154.8 457.7h0M1191.8 457.8h0M1162.3 457.8h0M1076.4 457.9h0M936.9 457.9h0M967 458h0M1276.8 458.1h0M947.7 458.1h0M1114.7 458.2h0M1094.3 458.2h0M1050.9 458.3h0M930.8 458.6h0M1317.9 458.7h0M1058.9 458.7h0M1203.8 458.7h0M1147 458.8h0M866.2 458.8h0M867.3 458.9h0M1170.1 459h0M981.5 459h0M916.2 459h0M1446.7 459.2h0M1186.6 459.3h0M883.2 459.3h0M903.5 459.4h0M1270.3 459.4h0M1393.1 459.5h0M1123.6 459.5h0M1000 459.6h0M1130.7 459.6h0M1011.1 459.8h0M856.5 459.9h0M1022 460h0M1295.1 460.1h0M1004.2 460.1h0M1439.3 460.2h0M961.8 460.3h0M955.3 460.3h0M1236.4 460.4h0M1217.6 460.5h0M1107.1 460.5h0M895.5 460.5h0M1220.9 460.5h0M1252 460.6h0M1199.6 460.6h0M1180 460.7h0M1082 460.8h0M1345.6 461h0M1075.2 461h0M1067.1 461.1h0M1373.3 461.1h0M1297.4 461.1h0M1006 461.2h0M920.5 461.3h0M1018.1 461.3h0M1337.3 461.3h0M1030.5 461.3h0M1211.6 461.4h0M1037.3 461.5h0M1087.3 461.7h0M1260.9 461.7h0M1228.3 461.7h0M1354.5 461.7h0M991.3 461.8h0M1101.3 461.9h0M1272.7 461.9h0M1045.1 461.9h0M1136.2 462h0M881.3 462h0M1245.3 462h0M939.3 462.2h0M1346.8 462.3h0M889.1 462.4h0M1160.1 462.6h0M1186.2 462.7h0M899.6 462.9h0M1169.4 463h0M1176.9 463.1h0M1353.2 463.1h0M948 463.2h0M931.2 463.2h0M1361.6 463.3h0M1420.5 463.3h0M976.6 463.4h0M1139.8 463.4h0M922.4 463.4h0M1356.4 463.7h0M1461 463.7h0M1345.3 463.7h0M1040.5 463.7h0M1053.3 463.8h0M989.7 464h0M1152.4 464.1h0M1013.6 464.2h0M1117.9 464.2h0M1350.2 464.2h0M1173 464.5h0M1195.2 464.5h0M1270.3 464.5h0M1022.9 464.7h0M1281.8 464.7h0M1292.8 464.7h0M1099.4 464.8h0M999.7 464.9h0M1503.8 464.9h0M1059 465h0M1373.5 465.1h0M1408.6 465.2h0M776.1 465.3h0M1243.1 465.3h0M1033.3 465.3h0M1337 465.6h0M1048.4 465.6h0M927.5 465.7h0M1144.4 465.8h0M985 465.9h0M1093 465.9h0M903.5 466h0M1111.7 466h0M1302.2 466h0M1278.3 466.1h0M1203.1 466.2h0"/>
<path d="M1288.8 466.2h0M910.5 466.2h0M1286 466.2h0M1121.7 466.3h0M1209.5 466.4h0M943.5 466.4h0M1231.1 466.7h0M690.5 466.7h0M1128.3 466.7h0M1004 466.8h0M1225.6 466.8h0M1183.1 466.8h0M1077.7 466.8h0M1155.7 466.8h0M1207.1 466.8h0M1071.2 467h0M1135.3 467.2h0M919.1 467.4h0M1138.7 467.4h0M967.6 467.5h0M1289.4 467.5h0M1166.4 467.5h0M1141.1 467.6h0M1340.5 467.6h0M1191 467.6h0M1162 467.7h0M998.3 467.7h0M958.2 467.7h0M1106.3 467.8h0M1301.1 467.8h0M884.1 467.8h0M1264.8 467.8h0M1064 467.8h0M1389.2 467.9h0M961.9 467.9h0M910.9 467.9h0M772 467.9h0M1091.1 468h0M853.8 468.1h0M928.7 468.1h0M1083.6 468.2h0M1217.9 468.2h0M883.2 468.3h0M1008.6 468.7h0M874.2 468.7h0M953.9 468.8h0M994.7 468.9h0M1250.5 468.9h0M858.9 468.9h0M780.8 469h0M1025.8 469h0M972.3 469.1h0M1236.8 469.2h0M893 469.3h0M1117.2 469.3h0M1197.6 469.4h0M1032.5 469.4h0M1422.4 469.5h0M876.8 469.5h0M1041 469.5h0M1335.5 469.6h0M1225.2 469.6h0M1325.4 469.6h0M934.2 469.7h0M980 469.7h0M1453.3 469.9h0M1333.7 470h0M1338.9 470h0M1017 470.1h0M1319.5 470.3h0M963.5 470.3h0M1432.7 470.3h0M1371.1 470.3h0M847.5 470.6h0M949 470.6h0M1146.9 470.7h0M1180.1 470.7h0M1311.9 470.7h0M1208.9 470.9h0M1172.2 471h0M1300.3 471h0M1127.3 471.2h0M936 471.3h0M986.1 471.4h0M1101.6 471.4h0M858.8 471.5h0M1003.7 471.5h0M1287.5 471.5h0M905.9 471.6h0M920 471.6h0M1272.5 471.6h0M1213.1 471.6h0M832.1 471.6h0M1094.1 471.7h0M936.3 471.7h0M1241.9 471.7h0M1108.9 471.8h0M1263.4 471.9h0M1082.7 472h0M1046.5 472.2h0M1058.2 472.3h0M1076.4 472.4h0M1279.6 472.4h0M1011.1 472.4h0M1191.7 472.6h0M1053.6 472.6h0M1152.7 472.6h0M1158.4 472.6h0M900 472.7h0M1087.6 473.2h0M1184.4 473.3h0M1247.5 473.3h0M991.2 473.4h0M1063.9 473.4h0M1124.2 473.6h0M1435.8 473.6h0M1031.5 473.6h0M1218.4 473.7h0M1229.8 473.8h0M1344.7 473.9h0M1325 473.9h0M1068.3 474.1h0M1291.5 474.1h0M1034.7 474.1h0M847.8 474.2h0M969.1 474.2h0M1113.9 474.3h0M918.3 474.3h0M958.1 474.3h0M909.3 474.4h0M998.2 474.4h0M1098.1 474.5h0M858 474.5h0M1133.8 474.6h0M894 474.7h0M1023.5 474.7h0M874.3 474.7h0M1178.1 475h0M895 475h0M1242.8 475h0M1244.1 475.1h0M1224.1 475.3h0M1202.9 475.4h0M1295.1 475.4h0M874.6 475.5h0M863.7 475.6h0M936.7 475.6h0M1168.2 475.7h0M975 475.7h0M916.5 475.8h0M959.4 476h0M850.7 476h0M927.9 476h0M1140.4 476h0M980.6 476h0M1353.7 476.1h0M1165.1 476.2h0M1157.7 476.3h0M1042.1 476.4h0M1009.6 476.5h0M1147.6 476.6h0M1154.1 476.7h0M973.8 476.7h0M1105.1 476.8h0M1087.7 476.9h0M1065.8 476.9h0M811 477h0M1235.3 477.1h0M1354.3 477.1h0M952.3 477.1h0M1001 477.1h0M1293.6 477.1h0M1016.5 477.2h0M1269 477.2h0M1053.9 477.4h0M877.3 477.4h0M1116.9 477.4h0M1253.4 477.5h0M1013.4 477.5h0M937.5 477.5h0M1281.5 477.5h0M1074.6 477.6h0M1308.7 477.6h0M948.2 477.6h0M762.5 477.6h0M991.6 477.8h0M1391.7 477.8h0M1204.2 477.8h0M892.1 477.9h0M1266 477.9h0M964.7 478h0M1196.6 478h0M919.5 478.1h0M1386.1 478.1h0M1129.7 478.1h0M1125.6 478.2h0M1332.4 478.2h0M1049.4 478.2h0M1254.7 478.3h0M892.7 478.3h0M967.9 478.4h0M853.1 478.5h0M1173.1 478.6h0M1263.1 478.7h0M1083.2 478.7h0M832.3 479h0M1181.8 479h0M1248.6 479.2h0M1202.3 479.2h0M1210.7 479.3h0M1033.6 479.3h0M877.2 479.3h0M856.8 479.4h0M1275.9 479.6h0M1027.5 479.6h0M887.9 479.7h0M986.2 479.9h0M1222.1 480.1h0M1000.3 480.1h0M1337.9 480.2h0M1188.6 480.3h0M790.9 480.3h0M1321.3 480.5h0M1313.7 480.5h0M920.4 480.6h0M1100.3 480.6h0M1044 480.6h0M1060.5 480.6h0M1285.9 480.8h0M1109.8 480.8h0M1216 480.8h0M1092.6 480.9h0M837.4 480.9h0M1257.4 480.9h0M1293 481h0M927.7 481h0M1134.9 481.1h0M934.8 481.4h0M1039.5 481.5h0M1108 481.5h0M1164.4 481.6h0M1023.4 481.7h0M1235.3 481.8h0M902.2 481.8h0M1228.4 482.2h0M1272.1 482.4h0M1329.9 482.5h0M1157.8 482.7h0M1007.2 482.7h0M778.4 482.8h0M1085.4 482.8h0M906.9 482.9h0M1141 483h0M1321.8 483h0M822.3 483h0M841.8 483h0M1315.3 483.1h0M1076.7 483.2h0M1261.3 483.2h0M1151.6 483.2h0M1146.6 483.2h0M993.2 483.2h0M958.3 483.3h0M883.3 483.4h0M1067.6 483.4h0M1111.6 483.5h0M1183.8 483.6h0M1176.8 483.7h0M1119.8 483.7h0M893.4 483.7h0M945 483.8h0M979.6 483.8h0M1170.9 483.8h0M889.3 483.8h0M880 483.9h0M911.8 484h0M1053.7 484h0M885.4 484h0M1018.9 484.1h0M1364.6 484.2h0M1192.7 484.3h0M1038 484.4h0M1014.8 484.4h0M897.6 484.6h0M827.5 484.6h0M924.2 484.7h0M1245.1 484.7h0M807 484.7h0M965.4 484.8h0M1029.7 484.8h0M1060.5 484.9h0M1204.2 485h0M1001.8 485.1h0M1125 485.2h0M1094.7 485.2h0M1211.3 485.6h0M1443 485.6h0M973.5 485.6h0M1292.1 485.6h0M952.5 485.6h0M1199.2 485.8h0M918.1 485.8h0M1046.3 485.9h0M1221.1 485.9h0M932.8 485.9h0M797.8 486h0M1086.4 486.1h0M1279.7 486.1h0M995 486.3h0M754 486.5h0M1131.9 486.5h0M1266.1 486.6h0M1320.9 486.6h0M1109.4 486.7h0M857.2 486.7h0M1236.2 486.8h0M1100.8 486.8h0M1041.9 487h0M1075.8 487.2h0M1140.5 487.2h0M1252.5 487.3h0M966.4 487.4h0M938.5 487.4h0M1027.3 487.6h0M1313.7 487.6h0M1049.9 487.8h0M1094.4 487.9h0M1008.3 487.9h0M1336.8 488h0M1184.3 488.1h0M1285 488.1h0M919 488.1h0M1225 488.2h0M960.9 488.2h0M986.4 488.3h0M975.7 488.4h0M1253.8 488.4h0M902.9 488.5h0M1162.9 488.5h0M955.3 488.5h0M1213.5 488.6h0M1055.6 488.7h0M1067.3 488.7h0M874.7 488.8h0M859 488.8h0M1191.5 488.8h0M1271.2 488.9h0M1204.2 489.1h0M1145.8 489.1h0M1241.6 489.1h0M1013.4 489.2h0M1116.2 489.4h0M1081.6 489.4h0M1230.4 489.4h0M1319.4 489.4h0M1246.8 489.6h0M1369.4 489.7h0M929.8 489.7h0M926.2 489.7h0M1175.3 489.8h0M1181.2 489.9h0M913.1 490h0M801.2 490h0M1037.2 490.1h0M1021.5 490.1h0M829.9 490.1h0M1131.3 490.2h0M1153.7 490.2h0M938.7 490.3h0M988.6 490.3h0M873.3 490.3h0M1221.3 490.4h0M1157.7 490.5h0M1305.4 490.6h0M1307.1 490.6h0M974.5 490.7h0M910 490.7h0M1303.8 491h0M1285.2 491.1h0M1123.6 491.1h0M1302.5 491.2h0M1258.2 491.2h0M1107.6 491.2h0M934.2 491.2h0M1046.5 491.3h0M1071.3 491.3h0M1203.5 491.4h0M1168.6 491.4h0M1295.5 491.4h0M1226 491.6h0M866.6 491.6h0M1005.1 491.6h0M821.6 491.7h0M999.1 491.7h0M1092.2 491.7h0M1027.7 491.8h0M880.3 491.8h0M1189.4 491.8h0M1255.4 491.9h0M1163.5 492.1h0"/>
<path d="M983.2 492.1h0M1327.7 492.1h0M1115.1 492.3h0M1224.7 492.4h0M1210.5 492.4h0M1138.8 492.4h0M856.2 492.6h0M1048.6 492.6h0M1240.4 492.7h0M1077.5 492.7h0M964.6 492.8h0M1275.1 492.8h0M1281.5 492.9h0M1061.6 493h0M884 493h0M1172.3 493.2h0M1178.8 493.3h0M1233.5 493.3h0M1157.4 493.3h0M951.4 493.3h0M1264.2 493.5h0M1100.3 493.5h0M1018.4 493.5h0M879.2 493.5h0M1233.8 493.6h0M1489.4 493.6h0M937.5 493.6h0M1197.9 493.7h0M812.5 493.8h0M989.4 493.9h0M1008 493.9h0M1031.8 494h0M1220.9 494.2h0M959.6 494.2h0M830.7 494.2h0M1102.8 494.3h0M1367.7 494.4h0M970.3 494.5h0M1038.6 494.5h0M994.9 494.6h0M1147.5 494.6h0M1151 494.7h0M1265.4 495.2h0M1001.9 495.2h0M1086.7 495.2h0M1296.9 495.4h0M918.3 495.5h0M863.4 495.5h0M1336 495.5h0M1325.5 495.7h0M1139.2 495.7h0M1316.4 495.8h0M1305.7 495.8h0M948.1 495.8h0M1247.9 495.8h0M1049.3 495.9h0M1312.5 496h0M973.6 496h0M1111.9 496h0M919 496h0M1043.8 496.1h0M942.1 496.1h0M1363.9 496.2h0M1056.4 496.2h0M1279 496.2h0M1214.2 496.3h0M1275.9 496.3h0M1265.6 496.3h0M887.8 496.4h0M1078.1 496.5h0M1057 496.7h0M981.3 497h0M1067.9 497h0M1129.3 497h0M828 497.1h0M1013.3 497.2h0M1093.1 497.3h0M894.9 497.4h0M1308.5 497.4h0M853.3 497.4h0M1193.8 497.5h0M891.8 497.5h0M1121 497.6h0M1135.7 497.7h0M844.1 497.8h0M1183.9 497.8h0M1344 497.9h0M1215.4 498.1h0M1271.3 498.1h0M1203.4 498.1h0M897.8 498.1h0M929.6 498.1h0M1099.6 498.2h0M1363.6 498.3h0M1022.6 498.3h0M819.8 498.4h0M953.6 498.4h0M761.6 498.5h0M1165.3 498.5h0M1255.7 498.5h0M1070.8 498.5h0M931.3 498.6h0M868.2 498.7h0M1207.4 498.7h0M1291.6 498.9h0M1294.3 498.9h0M1016.3 498.9h0M994.6 498.9h0M922.1 498.9h0M1323.1 499h0M1199.6 499.1h0M1028.2 499.2h0M1358.3 499.2h0M826 499.3h0M1000.6 499.5h0M907.9 499.5h0M1091.6 499.6h0M1292.4 499.7h0M942.1 499.7h0M1178.6 499.8h0M1124 499.9h0M1290.1 499.9h0M1036.8 500h0M1252.9 500h0M1189 500.1h0M1397.7 500.2h0M1245.5 500.4h0M960.8 500.5h0M1239 500.5h0M1040.3 500.6h0M1227.5 500.6h0M1261.7 500.8h0M1105.9 500.9h0M1215.1 500.9h0M1119.2 500.9h0M1142.9 500.9h0M1171.8 501.1h0M1159.5 501.2h0M923.2 501.2h0M1084 501.3h0M1207.6 501.4h0M1028.8 501.4h0M973.6 501.5h0M862.4 501.6h0M987.6 501.6h0M967.1 501.7h0M1339.6 501.8h0M1154.7 501.8h0M1007.9 501.8h0M1301.9 501.9h0M1061.3 502h0M937.1 502h0M808 502.1h0M1285.5 502.1h0M1357.9 502.1h0M1173.5 502.2h0M916.3 502.2h0M1166 502.3h0M1136.8 502.4h0M1050.4 502.4h0M819.6 502.5h0M1374 502.5h0M752 502.8h0M886.5 502.8h0M898.4 503h0M1184.4 503.1h0M905.6 503.1h0M1328.9 503.2h0M1235.5 503.3h0M1149.1 503.4h0M1219.3 503.4h0M1322 503.4h0M1111.2 503.4h0M1302 503.5h0M1305.6 503.6h0M1051.3 503.6h0M1044 503.7h0M1016 503.7h0M1221.6 503.8h0M914.2 503.9h0M1273.7 503.9h0M1074.9 504.1h0M980.6 504.1h0M1100.7 504.2h0M1334 504.2h0M1131.1 504.2h0M1087.1 504.4h0M1195.2 504.5h0M929.2 504.6h0M949.2 504.6h0M1245.6 504.9h0M1282.1 504.9h0M1163.3 504.9h0M879.9 505h0M1382.9 505.1h0M1067.4 505.1h0M1095.1 505.1h0M1002.5 505.2h0M1078.2 505.2h0M1047.5 505.3h0M1257.2 505.4h0M1264.8 505.4h0M1057 505.4h0M1199.2 505.5h0M1210.1 505.7h0M995.1 505.7h0M1183.3 505.9h0M1252.4 505.9h0M1208.4 505.9h0M1317.4 505.9h0M849.2 505.9h0M1034 506h0M891.6 506.2h0M957.6 506.3h0M1324.6 506.3h0M1079.8 506.4h0M946.7 506.4h0M1123 506.4h0M1227.8 506.5h0M1021.8 506.5h0M1365.6 506.7h0M976.8 506.9h0M994.3 506.9h0M982.7 506.9h0M900.7 506.9h0M968.3 506.9h0M1059.3 507.1h0M1393.8 507.2h0M1335.4 507.2h0M1138.5 507.3h0M1306.4 507.3h0M938.8 507.3h0M864.8 507.5h0M854.2 507.5h0M1338.2 507.6h0M955.8 507.7h0M1160.4 507.8h0M1009.7 507.9h0M1300.6 507.9h0M1240.3 508h0M1328.7 508.1h0M705.4 508.1h0M1191.4 508.4h0M1416.8 508.5h0M1178.5 508.6h0M873.2 508.6h0M988.3 508.6h0M1170.5 508.7h0M963.7 508.7h0M1288.3 508.7h0M1118.1 508.7h0M893.5 508.8h0M1375.2 508.8h0M1088.4 509h0M1392.9 509h0M1269.1 509h0M1075.6 509.1h0M944.3 509.1h0M1289.8 509.2h0M1199.5 509.2h0M1037.8 509.2h0M906.7 509.3h0M1028 509.3h0M1339.2 509.3h0M1207.3 509.3h0M923.1 509.4h0M1217.7 509.4h0M1175.2 509.6h0M1128 509.6h0M1107.4 509.6h0M1144 509.9h0M934.2 509.9h0M1392 509.9h0M1221.1 510h0M1245.3 510h0M972.7 510.1h0M1295.8 510.2h0M1149.6 510.4h0M912.1 510.4h0M985.5 510.5h0M1044.4 510.5h0M964.6 510.6h0M1154.2 510.7h0M1232.4 510.8h0M920.1 510.8h0M868.3 510.9h0M961 510.9h0M1247.7 511h0M1348.8 511h0M1103.8 511h0M1350.5 511h0M1113.7 511.1h0M1345.1 511.1h0M1097.4 511.1h0M847.9 511.2h0M1261.6 511.2h0M1461.2 511.3h0M1013.7 511.3h0M1072.3 511.3h0M1226.8 511.6h0M769.9 511.6h0M794.6 511.6h0M863.7 511.8h0M1052.7 511.8h0M1061.5 511.9h0M1133.7 512h0M871.3 512h0M845.5 512h0M1162.4 512.1h0M1273.4 512.2h0M1307 512.2h0M1345.3 512.3h0M949.2 512.4h0M1373.9 512.5h0M1381.5 512.6h0M1004.3 512.8h0M815.8 512.9h0M1237.3 513h0M1082.4 513h0M1141.2 513h0M1170.6 513h0M1204.1 513.1h0M1280.7 513.2h0M805 513.3h0M883.6 513.4h0M1193.8 513.4h0M1288.3 513.5h0M1064.8 513.6h0M911.3 513.6h0M1092.8 513.6h0M969.7 513.7h0M994.8 513.7h0M826.5 513.7h0M1016.7 513.7h0M1072.2 513.8h0M1211.5 513.8h0M1187.8 513.8h0M929.1 513.9h0M907.1 514.1h0M1298.1 514.1h0M897.4 514.1h0M1110 514.1h0M1353.7 514.1h0M1081.8 514.2h0M978.7 514.2h0M987.7 514.2h0M1124.5 514.3h0M1018.9 514.5h0M939.3 514.7h0M1413.5 514.7h0M1045.4 514.8h0M1002.2 514.8h0M1268.3 514.9h0M956.6 514.9h0M1022.4 515h0M1031.4 515h0M1184.3 515.1h0M1180.5 515.1h0M1219.9 515.2h0M1316.3 515.2h0M932.1 515.2h0M1012.4 515.3h0M1169.5 515.3h0M1336.9 515.3h0M1132.3 515.4h0M943.5 515.4h0M1308.5 515.6h0M900.6 515.7h0M837.4 515.9h0M1036.9 516h0M1147.5 516h0M1245.3 516.1h0M1097.3 516.1h0M1245.5 516.1h0M1258.6 516.2h0M853.4 516.5h0M1052.7 516.5h0M1085.5 516.8h0M908.9 516.9h0M1135.1 517h0M1294.4 517h0M1121.4 517.2h0M1282.2 517.2h0M1351.4 517.2h0M863 517.2h0M1231.3 517.3h0M1417.7 517.3h0M1033.4 517.4h0M1195.5 517.5h0M1008 517.5h0M1236 517.6h0M1116.5 517.7h0M1057.6 517.7h0M1200.5 517.8h0M920 517.8h0M995.7 517.8h0M731.5 517.8h0M887.7 517.9h0M923.4 517.9h0M1190.4 517.9h0"/>
<path d="M1042.2 517.9h0M1159.4 518h0M1105 518.1h0M1028.6 518.1h0M1076.7 518.1h0M1177.2 518.3h0M1379.7 518.3h0M895.5 518.4h0M1320.3 518.4h0M1211.4 518.4h0M960.7 518.5h0M967.2 518.6h0M1152.4 518.6h0M1264.7 518.6h0M1225.2 518.7h0M1082.8 518.9h0M1206.2 519h0M1273.8 519h0M1255.2 519.1h0M845.1 519.1h0M1141.7 519.1h0M1127.3 519.2h0M1100.4 519.4h0M1165 519.4h0M1245.3 519.4h0M1341.1 519.4h0M971.6 519.5h0M1045.8 519.5h0M1088.3 519.6h0M880.1 519.6h0M1388.9 519.6h0M1361.3 519.6h0M1132.5 519.7h0M851.9 519.7h0M900.6 519.8h0M1067.5 519.8h0M947.8 519.9h0M982.7 519.9h0M1288.2 520h0M988.1 520.1h0M1001.9 520.2h0M952.4 520.3h0M1021.6 520.3h0M1505.9 520.4h0M882.9 520.4h0M914.4 520.5h0M1145.4 520.5h0M1261.6 520.5h0M1294.5 520.6h0M992.3 520.6h0M1315.5 520.6h0M845.9 520.8h0M1173.2 520.9h0M1075.9 520.9h0M1183.5 521h0M1282.1 521h0M1061.8 521h0M923 521.1h0M1056.9 521.2h0M976.8 521.2h0M1244.8 521.3h0M726.6 521.3h0M1217.5 521.4h0M1308.4 521.5h0M824.6 521.7h0M939.3 521.8h0M1306.6 521.8h0M1372.5 521.8h0M1111.2 522h0M1384.1 522h0M1266.1 522h0M870 522h0M1093.9 522.1h0M1454.6 522.1h0M908.7 522.1h0M1256.6 522.5h0M1014.3 522.5h0M867.9 522.6h0M1242 522.6h0M1137.6 522.6h0M1087.8 522.7h0M1078.4 522.7h0M939.8 522.9h0M933 522.9h0M1026 523h0M1419.7 523.1h0M1156.8 523.4h0M1036.8 523.5h0M1222.5 523.5h0M1050.5 523.6h0M888.3 523.6h0M961.9 523.6h0M1291.5 523.7h0M1142.6 523.9h0M1186.7 524h0M1302.6 524h0M1117.5 524h0M1235.9 524h0M1028.3 524.1h0M1273.7 524.5h0M1193.1 524.6h0M815.4 524.6h0M1207.2 524.7h0M1229.6 524.7h0M912.7 524.7h0M1200.5 524.8h0M1070.5 524.8h0M1219 524.9h0M860.6 524.9h0M977 525h0M892.3 525h0M1168.2 525h0M1006.3 525.1h0M1150.9 525.1h0M949.6 525.1h0M1209.1 525.2h0M1390 525.2h0M1325.7 525.3h0M1302.3 525.3h0M1102.5 525.4h0M864.6 525.4h0M956.3 525.7h0M997.6 525.8h0M943.3 525.8h0M921.2 525.9h0M1257.4 526h0M1107.7 526.1h0M1074.5 526.1h0M929 526.2h0M1247 526.2h0M1119.6 526.2h0M1123.3 526.3h0M1053.4 526.3h0M1040.1 526.4h0M1357.8 526.4h0M855.4 526.5h0M1015.7 526.5h0M1321.7 526.6h0M1129.7 526.6h0M1164.1 526.6h0M875.6 526.6h0M986 526.7h0M904.5 526.8h0M1158.8 526.9h0M1062.2 526.9h0M1298.4 526.9h0M1179.4 527h0M1171.4 527.1h0M924.5 527.2h0M967.7 527.2h0M903.6 527.3h0M898.3 527.5h0M1090.5 527.5h0M1139.8 527.5h0M1047.6 527.7h0M1320.2 527.8h0M880 527.8h0M1085.5 527.9h0M1251.7 527.9h0M973.5 528.1h0M992.7 528.1h0M1260.9 528.1h0M1081 528.2h0M1209.2 528.4h0M1030.3 528.4h0M814 528.4h0M1095.8 528.4h0M874.6 528.4h0M1283.7 528.5h0M1285 528.6h0M1156 528.9h0M933.3 529h0M1195 529h0M1214.1 529.1h0M1279.1 529.1h0M1237.4 529.1h0M854.9 529.3h0M1021.3 529.3h0M1245.6 529.3h0M1309.1 529.6h0M1268.1 529.7h0M1319.6 529.7h0M962.9 529.8h0M1223.6 529.9h0M1144.3 529.9h0M1003.7 530h0M992 530h0M967.7 530h0M1111.3 530.3h0M1149.7 530.4h0M836.4 530.4h0M1178.2 530.5h0M1292.6 530.5h0M1010.3 530.5h0M1127.3 530.7h0M898.5 530.7h0M1355.7 530.9h0M1134.6 531h0M937.2 531h0M712.6 531h0M1106 531.3h0M1187.5 531.3h0M981 531.4h0M915.6 531.4h0M954.1 531.4h0M1171.6 531.5h0M1058.9 531.5h0M1069.7 531.5h0M1101.9 531.5h0M1202.7 531.6h0M1074.4 531.7h0M1036.4 531.7h0M926.9 531.7h0M1416.2 531.8h0M1212.1 532h0M1080 532h0M1320.4 532h0M1000.7 532.1h0M1169.5 532.1h0M985.6 532.2h0M1231.2 532.2h0M833.4 532.4h0M860.3 532.5h0M1242.8 532.7h0M1299.5 532.7h0M980.2 532.7h0M1274.7 532.9h0M866.6 532.9h0M988.5 532.9h0M1116.2 533h0M1219 533h0M1026 533.1h0M917.7 533.1h0M1043.4 533.1h0M1297.6 533.5h0M1018.4 533.5h0M1246.3 533.5h0M1196.9 533.7h0M1120.3 533.8h0M1333.7 533.8h0M1089.2 533.8h0M1035 533.9h0M810.4 534h0M1098.3 534h0M1398.4 534.1h0M1412.2 534.1h0M1268 534.1h0M1256.2 534.2h0M1316.4 534.2h0M1309.3 534.2h0M1051.4 534.3h0M1236.4 534.3h0M962.1 534.4h0M974.2 534.5h0M1278.2 534.5h0M881.9 534.6h0M1254.4 534.7h0M977.9 534.8h0M1066.1 534.8h0M1006.6 534.8h0M1225.8 534.9h0M1273.4 534.9h0M940.5 534.9h0M1111.2 535h0M1190.2 535h0M1162 535.2h0M1141.4 535.2h0M1183.6 535.3h0M744.9 535.4h0M1286.8 535.6h0M1020.7 535.6h0M1367 535.6h0M933.6 535.6h0M950.2 535.6h0M1078.4 535.8h0M1314.2 536h0M1206.4 536h0M1188.3 536.2h0M1025.5 536.2h0M805.4 536.3h0M996.4 536.4h0M1277.2 536.4h0M1156 536.5h0M1012.7 536.5h0M1097.5 536.6h0M1404.2 536.8h0M889.3 537.2h0M1049.3 537.2h0M1130.5 537.2h0M1339.5 537.3h0M1216.3 537.4h0M1143.9 537.5h0M943.6 537.5h0M1278.4 537.5h0M1292.6 537.6h0M1074.4 537.6h0M827.5 537.6h0M1157 537.6h0M966.6 537.7h0M1042.4 537.7h0M1168.8 537.8h0M907.4 538h0M1258.7 538h0M1354.6 538.1h0M1125.7 538.1h0M1175.7 538.2h0M1199.3 538.2h0M1085.9 538.2h0M1058.6 538.3h0M957.1 538.3h0M1102.4 538.4h0M1249.9 538.5h0M1148.9 538.5h0M1119.2 538.6h0M1240.1 538.6h0M1110.8 538.7h0M1030.7 538.7h0M1429.2 538.8h0M933.1 538.8h0M924.7 538.8h0M1196.8 538.9h0M998.3 538.9h0M992 539h0M1136.5 539.1h0M919 539.1h0M945.3 539.3h0M905.3 539.3h0M1151.8 539.3h0M863.6 539.5h0M1339.4 539.8h0M1006.9 540h0M908 540h0M847.9 540h0M1343.1 540h0M850 540.1h0M1087.4 540.1h0M1324.5 540.1h0M868.7 540.2h0M1209.4 540.2h0M941.6 540.3h0M1013.9 540.3h0M985 540.4h0M1321.7 540.5h0M1206 540.5h0M903.5 540.5h0M1386 540.5h0M1263.7 540.6h0M1391 540.6h0M1233.1 540.7h0M1036.8 540.8h0M953.3 540.8h0M1388.7 540.8h0M1113.4 541h0M1183.5 541h0M1289.2 541.1h0M1064.3 541.1h0M969.7 541.2h0M1089.6 541.3h0M1093.8 541.4h0M1221.2 541.4h0M978.1 541.5h0M972.3 541.8h0M1180.7 541.9h0M1082.1 542h0M985.2 542h0M1169.4 542h0M924.9 542h0M1215.4 542h0M1343.5 542.1h0M1071.2 542.2h0M1257.8 542.2h0M1228.3 542.3h0M1051.1 542.3h0M898.9 542.3h0M1192.2 542.3h0M1285.6 542.4h0M1399.5 542.4h0M928.3 542.5h0M1121 542.6h0M962.4 542.7h0M1301.8 542.8h0M1359 542.8h0M1146.4 542.9h0M1002.7 542.9h0M1357.6 543h0M1199.5 543h0M1246.4 543.1h0M1417.2 543.1h0M1027.7 543.1h0M1162.8 543.2h0M942.2 543.2h0M1098.6 543.2h0M1326.2 543.4h0M1253.7 543.4h0M1344.7 543.5h0M1394.6 543.6h0M897.8 543.7h0M1130.8 543.7h0M896.4 543.7h0M882.8 543.8h0"/>
<path d="M1106.7 543.8h0M1078.2 543.9h0M1020.9 543.9h0M1012.1 543.9h0M1124.6 543.9h0M891 543.9h0M1241.7 544h0M914.8 544.1h0M1141.9 544.3h0M994.8 544.3h0M1232.8 544.3h0M870.2 544.5h0M1057.1 544.6h0M1040.1 544.6h0M1387.4 544.7h0M935.7 544.9h0M1168.4 545h0M1295 545.2h0M1221.1 545.2h0M980 545.2h0M1305.3 545.2h0M1380.3 545.2h0M902.4 545.4h0M1046.4 545.5h0M1269.7 545.8h0M1278.5 545.9h0M918.3 545.9h0M1263.6 546h0M1189.3 546.1h0M1311.9 546.3h0M1133.2 546.3h0M1210.6 546.4h0M1308.3 546.4h0M1157 546.5h0M1348.4 546.5h0M951 546.5h0M915.8 546.7h0M829.2 546.7h0M821.6 546.7h0M822.6 546.7h0M1316.8 546.8h0M959 546.8h0M1035 547h0M832.7 547h0M1292.2 547h0M1026.7 547.1h0M1220.3 547.1h0M1174.5 547.4h0M947.3 547.5h0M1097.1 547.6h0M1357.1 547.7h0M1115.8 547.8h0M1151.3 547.9h0M885.8 547.9h0M1283.9 548h0M1008 548h0M1093.6 548h0M1030.2 548.1h0M967.2 548.2h0M1180.6 548.2h0M989.4 548.2h0M766.4 548.4h0M1197.3 548.4h0M908.8 548.4h0M1060.4 548.6h0M807.1 548.6h0M1328.5 548.7h0M1083.5 548.7h0M1110 548.9h0M1049.6 548.9h0M1243.5 548.9h0M1066.4 548.9h0M1070.5 549h0M1235.1 549h0M975.6 549h0M1140.9 549h0M1161.6 549h0M1015.1 549.1h0M1248.8 549.1h0M1271.4 549.1h0M1229.4 549.1h0M837.6 549.2h0M932 549.2h0M1205.2 549.2h0M1448.2 549.3h0M1128.9 549.4h0M1036.5 549.4h0M1077.5 549.4h0M1086.8 549.4h0M1046.9 549.5h0M982.5 549.5h0M998.1 549.6h0M1320.6 549.8h0M1123.8 549.9h0M1057.9 549.9h0M1366 550h0M1169.4 550.1h0M1308.2 550.1h0M1103.5 550.1h0M925.6 550.2h0M859.8 550.2h0M1256.7 550.5h0M1287.6 550.5h0M1020 550.8h0M1214.6 550.8h0M1364.7 550.8h0M1277.6 551h0M881.6 551.1h0M1004.9 551.1h0M1188.6 551.2h0M920 551.2h0M800.2 551.4h0M1111.1 551.5h0M1039 551.5h0M942.7 551.5h0M1358.1 551.6h0M1236.5 551.6h0M808.8 551.6h0M1369.9 551.6h0M1195.3 551.7h0M1146.7 551.8h0M1181.1 551.9h0M981.9 552h0M1417.2 552.1h0M1252.5 552.1h0M1310.6 552.1h0M1337.5 552.1h0M901.6 552.2h0M953.3 552.2h0M1228 552.3h0M1000.6 552.3h0M1210.3 552.5h0M1139.9 552.8h0M1327.3 552.8h0M1293.6 552.8h0M1339.5 552.9h0M1170.3 552.9h0M1134.5 553h0M898.4 553h0M1144.6 553.1h0M1265.5 553.1h0M1310.1 553.1h0M1100.6 553.2h0M1203.8 553.2h0M1023.7 553.4h0M1260.1 553.5h0M835.3 553.7h0M1161.5 553.7h0M1218.5 553.8h0M1021.8 553.8h0M911.5 553.9h0M1082.9 553.9h0M969.8 554.1h0M830.8 554.2h0M1130.3 554.2h0M997.6 554.3h0M922.1 554.3h0M939.7 554.4h0M1308.4 554.4h0M1189.5 554.4h0M1226.4 554.4h0M963.8 554.4h0M990.6 554.5h0M1016.1 554.5h0M1063.7 554.7h0M1350.6 554.7h0M1250.1 554.8h0M886.9 554.8h0M1154.6 554.8h0M1240.6 555.1h0M1108.3 555.2h0M752 555.4h0M1093.5 555.4h0M933.5 555.5h0M946.9 555.5h0M1006.7 555.5h0M1175.3 555.6h0M1270.7 555.6h0M1031 555.7h0M960.3 555.7h0M1055.7 555.8h0M1048.1 555.8h0M1110.1 555.8h0M1010.5 555.9h0M1119 556h0M1208.4 556h0M1302.9 556h0M1245.9 556.2h0M1450.2 556.2h0M1087.3 556.2h0M1122.1 556.3h0M1069.2 556.4h0M1036.4 556.5h0M1282.1 556.6h0M1024.5 556.6h0M907.2 556.6h0M1173.4 556.7h0M842.5 556.8h0M1043.8 556.8h0M1075.6 556.9h0M929 556.9h0M1292.5 556.9h0M1331.9 556.9h0M1231.8 557h0M975.4 557.2h0M1370.4 557.2h0M958.2 557.3h0M1285 557.4h0M1215.2 557.7h0M890.8 557.8h0M1318.3 557.8h0M810.5 557.8h0M876.5 557.9h0M1278.6 558h0M1163.5 558h0M995.7 558.1h0M800.9 558.1h0M987.2 558.1h0M1199.7 558.1h0M901.5 558.2h0M1133.4 558.2h0M862.2 558.3h0M1224.9 558.4h0M1165.1 558.4h0M895 558.5h0M868.4 558.6h0M1183.5 558.7h0M1323 558.7h0M1071.2 558.7h0M1095.5 558.8h0M885.4 558.9h0M1203 559h0M1040.7 559.1h0M830.3 559.2h0M925.1 559.2h0M1322.2 559.3h0M1067.1 559.3h0M1269.7 559.4h0M1028.6 559.4h0M1391.2 559.4h0M1050.7 559.6h0M923.8 559.8h0M1102.1 559.9h0M810.4 559.9h0M1155.8 559.9h0M931.1 559.9h0M1148.2 559.9h0M979.7 560h0M1115.3 560.2h0M1255.8 560.2h0M1239.3 560.4h0M1276.2 560.4h0M1217 560.4h0M1079 560.6h0M1004.3 560.6h0M1230.7 560.8h0M1194.3 560.8h0M988.2 560.8h0M1332.6 560.8h0M1186.4 560.9h0M1010.8 561h0M1140.2 561h0M942.2 561.1h0M947.6 561.2h0M864 561.3h0M1176.4 561.3h0M1108.8 561.4h0M1370.9 561.4h0M955.7 561.5h0M967.5 561.5h0M822.2 561.5h0M1300.5 561.5h0M983.3 561.5h0M1328.4 561.6h0M1017 561.7h0M1125.5 561.7h0M1306.4 561.9h0M1317.7 561.9h0M823.3 561.9h0M951.9 561.9h0M1061.5 562h0M1131.5 562h0M909.8 562h0M1036.1 562.2h0M1221.9 562.3h0M1086.7 562.4h0M861.2 562.5h0M1025.1 562.6h0M1152.4 562.8h0M1170.8 562.8h0M1196.2 562.8h0M1292 562.9h0M937.8 562.9h0M1054 562.9h0M1211.2 563h0M1122.1 563.1h0M1267 563.2h0M808.4 563.2h0M1329 563.4h0M1306.8 563.4h0M1281.6 563.5h0M1313.7 563.5h0M1164.5 563.6h0M1090 563.7h0M961.6 563.7h0M914.3 563.7h0M975.2 563.7h0M1386.5 563.7h0M999.6 563.8h0M1249.2 563.9h0M918.7 563.9h0M1402.7 563.9h0M1380.1 564.1h0M1242.6 564.1h0M979.1 564.2h0M1099.3 564.4h0M1136.7 564.4h0M1145 564.5h0M1043.7 564.5h0M1350.6 564.7h0M1290.8 564.7h0M1257.9 564.8h0M887.2 564.8h0M941.8 564.9h0M1103.8 564.9h0M1188.6 564.9h0M1069.5 565h0M1499.3 565.1h0M1298 565.2h0M994.2 565.3h0M1017.2 565.3h0M904.6 565.4h0M1202.7 565.5h0M884.6 565.5h0M1181.9 565.5h0M1159.4 565.7h0M948.3 565.7h0M1236.2 565.7h0M1050.7 565.9h0M1266.3 565.9h0M1018.6 566h0M902.8 566h0M1075.9 566.1h0M922.2 566.3h0M912.2 566.5h0M1421 566.5h0M1228.4 566.5h0M1338.8 566.6h0M1127.2 566.6h0M1117.3 566.6h0M1387.1 566.7h0M1213.7 566.7h0M1241.1 566.8h0M1273.6 566.9h0M892 567h0M880.6 567.1h0M864.3 567.1h0M1284.1 567.1h0M951.6 567.2h0M1328 567.2h0M1030.1 567.2h0M1299.6 567.2h0M1067 567.2h0M1236.9 567.2h0M987.5 567.4h0M1399.3 567.6h0M1002.2 567.6h0M1138.6 567.7h0M1079.1 567.7h0M1164.6 567.8h0M1259.8 567.8h0M872.5 567.9h0M1110.9 567.9h0M1288.7 567.9h0M1173.7 568h0M1008.9 568h0M1151.9 568.1h0M1122 568.2h0M839.9 568.3h0M1481.2 568.4h0M865.8 568.4h0M1026.1 568.4h0M1160.7 568.5h0M900.9 568.5h0M1315.3 568.6h0M967.1 568.8h0M976.7 569h0M1105.7 569.1h0M993.6 569.1h0M1370.4 569.3h0M1059.7 569.3h0M1223.4 569.4h0M1282.3 569.5h0M875.5 569.5h0M922.6 569.5h0M1364.8 569.5h0M1094.3 569.7h0M1036.3 569.7h0M1253 569.8h0M894.7 569.8h0"/>
<path d="M957.9 569.9h0M1199.9 570h0M1219.1 570h0M915.4 570h0M979 570.1h0M1310.9 570.2h0M1214.1 570.2h0M1208.6 570.2h0M1193.5 570.2h0M1085.5 570.2h0M1015.6 570.2h0M1131.7 570.3h0M874 570.3h0M1041.7 570.4h0M1354 570.5h0M866.6 570.5h0M953 570.6h0M1284.7 570.8h0M938.2 570.8h0M1072.2 570.9h0M968.4 571h0M1308.7 571h0M1186.6 571h0M1177.1 571.2h0M1030.9 571.2h0M1048.7 571.3h0M1380.4 571.4h0M1394.5 571.4h0M1306 571.5h0M932.4 571.7h0M1142 571.8h0M1246.8 572.1h0M1115.4 572.1h0M890.7 572.4h0M1056.2 572.5h0M1127.1 572.5h0M1025.8 572.6h0M1147.7 572.6h0M1170.1 572.7h0M1095.5 572.8h0M1102.4 572.8h0M1080.4 572.8h0M1139.9 572.9h0M1229.8 572.9h0M1271.1 573h0M1298.5 573.2h0M997.4 573.2h0M1090.5 573.3h0M899.8 573.3h0M1262.9 573.4h0M1274.9 573.6h0M1332.1 573.6h0M1019.6 573.7h0M1235 573.7h0M1137.3 573.8h0M1004.4 573.8h0M1163.7 573.9h0M909.4 574h0M944.9 574h0M943.4 574h0M1189.8 574.1h0M1203.6 574.1h0M1199.2 574.2h0M896.1 574.3h0M1123.7 574.3h0M983.1 574.5h0M1062.4 574.6h0M1069.6 574.6h0M1244.2 574.7h0M1424.9 574.7h0M1109.1 574.9h0M869.2 574.9h0M1156.1 575h0M1237.4 575.1h0M924.3 575.1h0M884.5 575.2h0M1319.4 575.2h0M963.5 575.3h0M1221.6 575.5h0M1009.5 575.7h0M1157.8 575.7h0M968.4 575.8h0M1252.1 575.9h0M989.1 576h0M1267 576h0M922.6 576.1h0M1048.1 576.1h0M952.6 576.2h0M971.8 576.2h0M956.7 576.2h0M1123.4 576.3h0M1376.2 576.3h0M910.1 576.4h0M828.2 576.4h0M869.6 576.6h0M1040.4 576.7h0M1181.5 577h0M771.5 577h0M974.1 577.1h0M782.9 577.2h0M793.2 577.2h0M1287.2 577.2h0M962.8 577.3h0M1277.6 577.4h0M1072.5 577.6h0M906.2 577.6h0M1346.2 577.7h0M999.2 577.8h0M1210.9 577.8h0M1084.7 577.8h0M1077 578h0M1259.4 578.2h0M1066.7 578.2h0M935.6 578.3h0M1125.1 578.4h0M1153.9 578.6h0M1304.3 578.6h0M1014.5 578.6h0M1328 578.7h0M834.5 578.7h0M1322.7 578.7h0M985.8 578.8h0M1060.3 578.8h0M1339.7 578.8h0M1131 578.8h0M1034.3 578.9h0M1193.1 579h0M1173.4 579h0M1243.7 579.1h0M916.4 579.1h0M993.5 579.1h0M925.2 579.1h0M1215.7 579.2h0M886.3 579.2h0M946.7 579.2h0M1030.4 579.3h0M941.8 579.4h0M1459.9 579.5h0M975 579.5h0M1225.6 579.5h0M1138.1 579.5h0M1307.1 579.5h0M1223.4 579.6h0M1145.8 579.6h0M1021.8 579.7h0M1053 579.8h0M1215.1 579.8h0M1116.7 579.8h0M1199.8 579.9h0M863.7 579.9h0M1098.1 580h0M1299.2 580.1h0M979.2 580.2h0M1092.9 580.3h0M1167.7 580.3h0M876.4 580.3h0M1039 580.4h0M1105.8 580.4h0M894.1 580.5h0M1288.5 580.5h0M1189.3 580.6h0M1146.7 580.6h0M821.2 580.7h0M1047.8 580.8h0M1207 580.9h0M845.3 581.1h0M1028.7 581.1h0M1283.2 581.2h0M1233.4 581.3h0M1274 581.3h0M1171.1 581.4h0M866.3 581.4h0M1114.9 581.4h0M1251.5 581.4h0M1090.7 581.5h0M1058.5 582.1h0M910.5 582.2h0M1007.2 582.2h0M954.2 582.3h0M1162.3 582.4h0M896.1 582.5h0M1481.2 582.6h0M1297.1 582.6h0M989 582.7h0M999 582.8h0M1354.7 583.1h0M1321.3 583.2h0M1027.7 583.5h0M1269 583.5h0M959.9 583.6h0M975.2 583.7h0M1357.5 583.8h0M872.4 583.8h0M1153.6 583.9h0M1179.3 583.9h0M1285 583.9h0M1243.6 584h0M905 584h0M1266.9 584h0M1305.7 584h0M913 584.1h0M1007.3 584.1h0M920.2 584.1h0M1082 584.2h0M1293.7 584.2h0M1300.9 584.2h0M1394.8 584.2h0M1130.1 584.3h0M1238.7 584.3h0M967.7 584.4h0M1252.9 584.4h0M1067.3 584.5h0M1182.6 584.6h0M885 584.8h0M1314.8 584.9h0M1113.2 584.9h0M996.2 584.9h0M1267.9 584.9h0M1198.5 584.9h0M950.9 585h0M1336.6 585h0M1211.5 585.2h0M1226 585.2h0M1020.2 585.2h0M983.5 585.2h0M1074.1 585.3h0M1205.1 585.3h0M1373.3 585.4h0M955.8 585.4h0M1083.1 585.4h0M1191.9 585.4h0M1389.6 585.5h0M932.8 585.6h0M1135.7 585.6h0M1122.4 585.7h0M1040.4 585.9h0M869.2 586h0M940.2 586h0M1164.4 586.1h0M1303.7 586.2h0M1107.3 586.3h0M1054.5 586.6h0M878.2 586.6h0M1239 586.6h0M1278 586.8h0M1032.4 586.8h0M1281.1 586.8h0M1141.1 587h0M1093.2 587h0M1100.5 587.2h0M1058.9 587.2h0M1219.8 587.3h0M1073.9 587.3h0M1113.3 587.5h0M1087.3 587.5h0M1145.1 587.5h0M1340.5 587.5h0M976.9 587.7h0M1248.7 587.8h0M944.2 587.8h0M1248.1 587.8h0M987.4 588h0M1257.3 588.1h0M1036.9 588.1h0M1171.8 588.2h0M966.3 588.3h0M1315 588.4h0M941.4 588.4h0M887.6 588.5h0M888.3 588.6h0M1128.6 588.6h0M1047.2 588.7h0M1475.6 588.8h0M1023.2 588.8h0M1157.6 588.8h0M896.1 589.2h0M1185.4 589.4h0M1239.8 589.5h0M1154.6 589.5h0M1204.7 589.6h0M994.2 589.6h0M1319.7 589.8h0M1001.9 589.8h0M1147.3 589.8h0M1013.7 589.9h0M1303.1 590h0M1187.8 590.2h0M983.8 590.2h0M1213.2 590.2h0M1284.8 590.3h0M874.2 590.3h0M1290.5 590.4h0M1010.6 590.4h0M959.2 590.5h0M1102.7 590.6h0M1254.3 590.8h0M1088 590.8h0M1021.4 590.8h0M1291.5 591.1h0M973.2 591.1h0M934.3 591.3h0M1032.5 591.5h0M1177.7 591.5h0M1225.1 591.5h0M867.1 591.6h0M1063 591.6h0M891 591.6h0M1113.5 591.6h0M1233.9 591.7h0M1317.7 591.8h0M1120.3 591.9h0M1052.7 591.9h0M1071.2 592h0M1346.6 592h0M1078.1 592h0M748 592.1h0M1264.8 592.1h0M1194.6 592.2h0M958.9 592.2h0M1268.5 592.3h0M1006 592.3h0M928 592.3h0M1356.4 592.4h0M1095.7 592.4h0M1066.2 592.5h0M1310.2 592.5h0M1230.6 592.6h0M1044.7 592.6h0M1323.3 592.8h0M1133.8 592.9h0M1327.7 593h0M1139.8 593.1h0M1296.4 593.1h0M920.8 593.2h0M1210 593.3h0M1106.3 593.4h0M1168.6 593.5h0M1145 593.7h0M1085.4 593.7h0M1018.8 593.7h0M1343.3 593.8h0M1200.4 593.9h0M1242.5 594h0M965.1 594.1h0M1193.6 594.3h0M1163.9 594.4h0M1390.9 594.4h0M1343.4 594.4h0M927.4 594.5h0M864.8 594.5h0M1217.8 594.6h0M1050.6 594.7h0M1078.5 594.8h0M998.3 594.8h0M989.7 594.8h0M1349.4 594.8h0M1151.4 594.8h0M1058.4 594.9h0M1258.1 594.9h0M1181.3 594.9h0M1277.7 595.2h0M966.7 595.3h0M1039.9 595.4h0M883.2 595.5h0M976.4 595.6h0M1234.9 595.6h0M920.2 595.7h0M892.8 595.8h0M1124.6 595.9h0M949.3 595.9h0M1014.5 595.9h0M1202 596h0M1271.5 596.4h0M1499.9 596.4h0M936.9 596.4h0M1173 596.5h0M843.7 596.5h0M899.3 596.5h0M1301.6 596.6h0M1269.6 596.6h0M1129.4 596.7h0M1051.6 596.7h0M1040.7 596.9h0M943.9 596.9h0M1087.9 597h0M1282.2 597.2h0M906 597.2h0M978.5 597.4h0M1276 597.5h0M1157.4 597.6h0M1141.1 597.7h0M1073.3 597.7h0M930.8 597.7h0M1029.5 597.8h0M1059.2 597.9h0M1100.7 597.9h0M1275.1 597.9h0M990.2 598h0M935.3 598.1h0M908 598.2h0"/>
<path d="M1002.8 598.3h0M1111.9 598.4h0M1186.2 598.4h0M1227.2 598.4h0M1197.5 598.5h0M1011 598.6h0M1119.5 598.8h0M914.6 598.8h0M1136.3 598.9h0M1191.6 599h0M845.4 599.1h0M982 599.1h0M890.4 599.3h0M1213.5 599.3h0M1024.1 599.4h0M1106.2 599.4h0M1035.5 599.4h0M1479.1 599.5h0M1262.6 599.7h0M1174.5 599.7h0M1032.6 599.7h0M1161.6 599.8h0M1228.7 599.9h0M1182.5 600h0M972 600.1h0M1221.4 600.2h0M1001.6 600.2h0M1259.2 600.2h0M1066.2 600.2h0M918.5 600.2h0M1168.8 600.3h0M997.3 600.3h0M1093 600.3h0M1206.8 600.3h0M1014.4 600.4h0M874.4 600.8h0M1236.7 600.9h0M1283.4 600.9h0M1283 601h0M957.4 601.1h0M1075.2 601.1h0M1312.4 601.2h0M1297.9 601.6h0M1081.8 601.6h0M950 601.6h0M1069.7 601.7h0M1358.1 601.8h0M1056.1 601.9h0M1046.1 602h0M1252.3 602h0M1100 602.1h0M986.1 602.1h0M924.6 602.1h0M1110.7 602.1h0M1385.1 602.2h0M1148.4 602.2h0M1125 602.3h0M1155.8 602.4h0M1021.6 602.5h0M1196.7 602.5h0M1248.6 602.6h0M964 602.7h0M975.2 602.8h0M966.4 602.8h0M1310.3 603.1h0M1142.5 603.2h0M1133.9 603.2h0M820.7 603.2h0M1230.1 603.3h0M1015.1 603.4h0M1301.8 603.5h0M1220.7 603.6h0M942.1 603.8h0M897 603.8h0M1131.5 603.8h0M1203 603.9h0M1085.3 603.9h0M1021.4 603.9h0M971 604h0M940.9 604.1h0M1384 604.2h0M1191.5 604.5h0M1152.1 604.5h0M1050.7 604.6h0M1041.2 604.7h0M1241.6 604.7h0M1028 604.7h0M1008.7 605h0M1183.2 605h0M1096.4 605.1h0M1335.2 605.1h0M1368 605.2h0M1063.7 605.2h0M993.2 605.3h0M1320.6 605.4h0M1236.6 605.4h0M1311.8 605.4h0M1119.8 605.5h0M950.3 605.5h0M1011.1 605.6h0M1115.3 605.7h0M1439.7 605.7h0M942.4 605.7h0M913.5 605.7h0M873.2 605.9h0M1294 606h0M952 606.2h0M1260.9 606.3h0M1274.4 606.4h0M1177.2 606.6h0M1368.8 606.7h0M1164.3 606.8h0M1186.7 606.8h0M1080.5 606.8h0M854.3 607h0M1052.7 607h0M1172.7 607h0M1001.8 607.1h0M861.5 607.1h0M1091.2 607.2h0M914.7 607.3h0M877.1 607.4h0M1256.3 607.4h0M1213.7 607.6h0M1231.8 607.7h0M1104.9 607.7h0M1069.4 607.9h0M935.5 607.9h0M1110 608h0M1135.7 608h0M1275.2 608.1h0M1218.4 608.1h0M1043.1 608.2h0M958.4 608.3h0M991 608.4h0M1316.2 608.4h0M1033.7 608.5h0M920 608.5h0M976.7 608.5h0M1194.2 608.6h0M1201 608.8h0M901.3 608.8h0M1226.1 609h0M1305.1 609h0M1291.4 609.2h0M1160.8 609.3h0M1255.2 609.3h0M1209.5 609.3h0M1085.6 609.4h0M1060.1 609.4h0M969.7 609.4h0M888.7 609.5h0M1025.6 609.5h0M882.9 609.6h0M1104.2 609.6h0M1074.5 610h0M923.6 610h0M1282.9 610.2h0M1322.1 610.2h0M1041 610.3h0M1126.5 610.4h0M1153 610.4h0M997 610.4h0M1117.2 610.4h0M1225.3 610.4h0M1009.8 610.6h0M1144.5 610.6h0M1138.1 610.7h0M1057.6 610.7h0M1276.7 610.8h0M1420.3 610.8h0M920.8 610.9h0M1169.6 610.9h0M1061.1 611.1h0M936.4 611.2h0M1300.1 611.3h0M1203.4 611.3h0M1150.4 611.4h0M1019.2 611.4h0M1045.4 611.6h0M1361.4 611.6h0M976.4 611.7h0M1094.4 611.9h0M1337.1 612h0M1128.2 612h0M1186.4 612h0M848.3 612.1h0M965.7 612.2h0M1328 612.3h0M1099.1 612.3h0M1134.1 612.3h0M817.7 612.6h0M1125.3 612.6h0M1068.9 612.7h0M1247.1 612.8h0M1028.5 613h0M979.8 613h0M1174.7 613.1h0M1050 613.1h0M1083.2 613.2h0M897.2 613.3h0M1111.9 613.6h0M1258.9 613.7h0M944.2 613.8h0M1009.2 613.8h0M1313.4 613.8h0M1181.6 613.8h0M1199.9 613.9h0M1376.2 614.1h0M1472.7 614.1h0M1285 614.2h0M945.7 614.3h0M1321.6 614.3h0M1002.7 614.5h0M778.8 614.6h0M1157.1 614.6h0M1076.4 614.7h0M1313.7 614.7h0M951.6 615h0M1354.1 615h0M1350.9 615h0M1165.5 615h0M1015.8 615.1h0M995 615.2h0M1262 615.2h0M1091.8 615.3h0M954.8 615.4h0M1308.1 615.4h0M799.4 615.5h0M1264.1 615.6h0M1302.4 615.7h0M1255.9 615.8h0M881.2 615.8h0M1214.1 615.8h0M1199.4 615.9h0M1018.3 616h0M1296.2 616.1h0M981.8 616.1h0M1027.2 616.3h0M1081.9 616.3h0M1030.5 616.4h0M1189.6 616.5h0M1145.6 616.5h0M1348.1 616.5h0M1037 616.6h0M969.5 616.6h0M1107.6 616.8h0M1246.7 616.8h0M1157.9 616.9h0M1043.5 617h0M1012.8 617.1h0M1058.3 617.1h0M1250.2 617.2h0M1430.6 617.2h0M896.4 617.3h0M1275.4 617.4h0M998.1 617.4h0M1220 617.5h0M1120.4 617.6h0M1269.1 617.7h0M1100.3 617.7h0M854.3 617.7h0M958.9 617.8h0M872.6 617.8h0M927.3 617.9h0M1143.7 617.9h0M1087.4 617.9h0M1330.7 618h0M1394.6 618h0M976.8 618.1h0M1329.3 618.1h0M933.6 618.2h0M1073.4 618.2h0M978.9 618.4h0M983.8 618.4h0M1111.6 618.5h0M1304.9 618.5h0M1062.1 618.6h0M1194.5 618.6h0M1128.9 618.6h0M1137.2 618.8h0M1178.6 618.9h0M1146.3 618.9h0M1320.1 618.9h0M1223.3 619h0M1170.7 619.2h0M1207.1 619.2h0M964.3 619.2h0M1284.1 619.5h0M1234.8 619.8h0M1237.3 619.9h0M1049.3 620.3h0M1128.3 620.4h0M1157.8 620.5h0M1094.3 620.5h0M1075.2 620.5h0M1461 620.5h0M943.7 620.7h0M1025.8 620.8h0M1069.1 620.9h0M1117.3 621h0M1054.4 621h0M1224.2 621h0M1185.1 621h0M1310.1 621.1h0M1280 621.1h0M903.6 621.1h0M1384.3 621.1h0M1005.5 621.3h0M1230.5 621.5h0M1268.1 621.5h0M921.3 621.7h0M1152.5 622h0M1016.8 622.1h0M1031.6 622.3h0M1236.2 622.5h0M1102.7 622.5h0M996.2 622.6h0M1276.8 622.7h0M1163.3 622.9h0M1192.8 622.9h0M1315.9 623.1h0M926.5 623.2h0M1251.3 623.3h0M1041.6 623.4h0M1065.9 623.4h0M1086.5 623.4h0M1325.4 623.4h0M1329.1 623.5h0M973.7 623.5h0M1334.2 623.6h0M1326.8 623.6h0M1119.5 623.7h0M1311.2 623.8h0M935.5 623.8h0M1282.7 623.8h0M1221.7 623.8h0M1202.4 624.1h0M1013.9 624.1h0M1216.6 624.2h0M1370.9 624.2h0M1195.7 624.4h0M1079.7 624.4h0M1254.1 624.5h0M961.9 624.5h0M1168.2 624.8h0M1132.8 624.8h0M1003.3 625.2h0M968.4 625.2h0M1034.9 625.3h0M1151.7 625.3h0M900.5 625.3h0M953.6 625.3h0M1110 625.3h0M1208.8 625.4h0M1027.4 625.4h0M1123.7 625.5h0M855.9 625.5h0M876.9 625.5h0M1245.5 625.5h0M962.6 625.6h0M1149.8 625.6h0M848.8 625.7h0M952.8 625.7h0M942.6 625.9h0M1141.3 626.1h0M1175.6 626.1h0M1184.5 626.1h0M990.9 626.2h0M1259.2 626.2h0M1378.1 626.3h0M955.3 626.4h0M1270.4 626.4h0M1352.3 626.4h0M936.4 626.5h0M1193 626.5h0M1061.1 626.5h0M1093.5 626.7h0M1288.1 626.8h0M1184.6 627h0M918.3 627.1h0M1023.2 627.1h0M1070.9 627.1h0M1049.2 627.1h0M1161.1 627.1h0M1008.1 627.2h0M908.6 627.3h0M974.1 627.7h0M1387.4 627.7h0M1076.3 627.8h0M1130.3 627.9h0M1098.5 627.9h0M1210 628.2h0M1293.3 628.4h0M1174.5 628.5h0M1287.1 628.6h0M1313.4 628.7h0M1319.3 628.7h0M1167.9 628.8h0M1053.8 629h0"/>
<path d="M1230.3 629h0M956.2 629.1h0M996.2 629.1h0M1294.5 629.2h0M1313.6 629.2h0M984.9 629.4h0M766.2 629.7h0M1015.6 629.7h0M1223.6 629.7h0M1086.5 629.7h0M1114.2 629.8h0M1035.2 629.8h0M1138.6 629.8h0M1156.7 630h0M1144.7 630h0M1245.2 630h0M1141.3 630h0M1226.2 630.2h0M1079.6 630.2h0M1279.8 630.3h0M1234.5 630.5h0M871.5 630.5h0M1358 630.6h0M1106.8 630.6h0M1119.2 630.7h0M940.9 630.8h0M1041.6 630.9h0M796.3 630.9h0M1217.5 631h0M1008.3 631h0M1191.2 631.2h0M953.8 631.4h0M1241.6 631.4h0M1114.9 631.4h0M1207.1 631.7h0M910 631.8h0M876.9 632.1h0M975.8 632.1h0M939.8 632.2h0M1067.6 632.3h0M922.4 632.4h0M1398.7 632.5h0M992.1 632.5h0M1182.3 632.7h0M1004.4 632.7h0M1126.3 632.8h0M1283.7 632.9h0M1108.2 632.9h0M1238.2 633h0M906.3 633.2h0M1038.2 633.3h0M1136.9 633.3h0M1059 633.4h0M1214.8 633.5h0M1095.2 633.6h0M1255.5 633.7h0M1029.5 633.7h0M1273.3 633.7h0M1102.3 633.8h0M1128.8 633.8h0M1149.9 634h0M823.5 634h0M984.2 634.1h0M1365.6 634.3h0M1208.9 634.4h0M1091.6 634.5h0M1173.8 634.5h0M1310.1 634.6h0M1047.7 634.6h0M934.1 634.7h0M1054.7 634.8h0M1087.2 634.8h0M1250.7 634.8h0M1018.9 634.8h0M1162 634.9h0M1279.1 635h0M964.9 635.2h0M1118.5 635.3h0M1015.2 635.3h0M958.6 635.4h0M1071.5 635.4h0M1025.6 635.5h0M886.3 635.6h0M1340.7 635.6h0M1150.5 635.8h0M1037 635.8h0M977.8 635.8h0M938.1 636h0M936.2 636h0M1175.5 636.1h0M1188.9 636.5h0M971.8 636.5h0M1183.1 636.5h0M1195 636.6h0M974.7 636.6h0M1205.6 636.7h0M892.2 636.7h0M908.3 636.7h0M1074.5 636.9h0M1158.2 637.3h0M1260.3 637.4h0M862.4 637.4h0M1147 637.4h0M1161.3 637.4h0M998.5 637.6h0M1232.9 637.7h0M996.4 637.7h0M1020.2 637.9h0M1228.1 638h0M1243.5 638h0M1108.2 638.1h0M1144.8 638.1h0M1060.9 638.2h0M1310.6 638.2h0M1221.3 638.3h0M1067.9 638.4h0M1224.5 638.5h0M1249.1 638.5h0M1000.2 638.6h0M1431.7 638.7h0M1318.4 638.8h0M1045.8 638.8h0M1319.3 639h0M1080.4 639.1h0M1214.9 639.1h0M1092.6 639.3h0M1254 639.5h0M1130.8 639.6h0M1123 639.7h0M1012.8 639.7h0M1106.2 639.9h0M949.1 640.1h0M998.9 640.3h0M1284.3 640.3h0M1082.2 640.3h0M1291 640.5h0M1007.9 640.6h0M1203.9 640.7h0M1032.9 640.7h0M1098.5 640.7h0M1416.2 640.7h0M884.1 640.9h0M1134.4 640.9h0M1503.4 640.9h0M1189.6 641h0M1177.7 641h0M1140.1 641.1h0M1262.4 641.2h0M960.6 641.2h0M821.9 641.2h0M966.7 641.3h0M1086.2 641.4h0M1025.4 641.4h0M1053.1 641.5h0M1115.9 641.5h0M1070.8 641.7h0M1204.8 641.7h0M965.7 641.7h0M1167 641.9h0M1268.8 641.9h0M1183.9 642h0M1222.5 642.1h0M1269.5 642.1h0M1223.6 642.2h0M1204.1 642.5h0M1356.4 642.9h0M1253.7 643.2h0M1042.6 643.3h0M1104.2 643.4h0M1128.9 643.4h0M1114.6 643.4h0M1269.5 643.6h0M1176.4 643.6h0M1275.7 643.6h0M1049.6 643.6h0M1153.4 643.9h0M1321.3 644h0M1304.3 644.1h0M1012.3 644.1h0M1062.1 644.4h0M1095.4 644.5h0M1008 644.8h0M1170.8 644.9h0M1059.8 645h0M1106.9 645.1h0M1118.4 645.1h0M1159.8 645.2h0M1210.3 645.3h0M1068.8 645.4h0M1089.1 645.4h0M1296.4 645.6h0M1002 645.6h0M1018.8 645.6h0M1403.2 645.7h0M1235.4 645.8h0M947.1 645.9h0M1051.6 646.1h0M1130.5 646.1h0M951 646.3h0M1183.8 646.3h0M1051.2 646.3h0M1015.5 646.3h0M1301.4 646.3h0M1461.6 646.5h0M947.9 646.6h0M1072 646.8h0M1040.3 646.8h0M1142.5 646.8h0M1259.1 646.9h0M927.1 646.9h0M1358.5 646.9h0M1208.9 647h0M829.7 647h0M1342.1 647h0M1324.6 647.1h0M1026.8 647.1h0M973.4 647.2h0M1198.6 647.2h0M970.5 647.4h0M1203.9 647.6h0M1039.5 647.6h0M1296.7 647.6h0M1124.4 647.7h0M1382.8 647.7h0M1121.4 647.8h0M1221.8 647.8h0M856.4 647.8h0M1217.3 647.8h0M977.2 648.1h0M976.5 648.2h0M1018.2 648.4h0M1080.5 648.4h0M1176.2 648.5h0M1046.7 648.5h0M1169.1 648.6h0M1024.5 648.9h0M1444.5 649h0M1150.8 649h0M915.9 649.1h0M952.4 649.2h0M989.8 649.2h0M1062.4 649.2h0M1163.4 649.3h0M1191.2 649.3h0M1034.5 649.4h0M1282.1 649.5h0M1080.1 649.6h0M1156.6 649.6h0M1145.6 649.9h0M915.9 650h0M1242.4 650h0M1287.4 650.1h0M1083.7 650.2h0M1139.6 650.4h0M997.3 650.5h0M779.4 650.5h0M1092.9 650.9h0M1217.1 651h0M1218.9 651.1h0M1130.5 651.2h0M1228.9 651.5h0M1225.2 651.5h0M1187.8 652h0M1200.8 652.2h0M1323.9 652.5h0M1056.9 652.5h0M1313.5 652.7h0M1099.4 652.9h0M1162.7 653h0M1047.3 653.2h0M1313.3 653.3h0M931.2 653.4h0M881.9 653.4h0M924.5 653.5h0M980.9 653.5h0M1073 653.6h0M1100.7 653.6h0M1196.6 653.8h0M1032 653.8h0M952.1 653.9h0M1316.2 653.9h0M1331.7 654.1h0M1044.2 654.2h0M1119.4 654.3h0M1061.5 654.4h0M1102 654.4h0M1089.8 654.4h0M1123.3 654.5h0M923.9 654.6h0M1304.3 654.8h0M1249.2 654.8h0M933.2 655h0M1172.4 655h0M1020.2 655.2h0M1153.8 655.2h0M1149.4 655.2h0M1041.9 655.4h0M1217 655.5h0M1242.1 655.5h0M1167 656h0M1050.7 656h0M950.9 656.1h0M1241.5 656.1h0M1028.1 656.2h0M1052.7 656.2h0M1137.3 656.5h0M915 656.6h0M1192.6 656.6h0M1133.2 656.6h0M1144 656.8h0M1081.4 656.9h0M899.3 656.9h0M986.8 657h0M1115.6 657.1h0M933.4 657.1h0M1184.8 657.2h0M1170.9 657.2h0M1098.1 657.2h0M1290 657.4h0M1191.8 657.5h0M1329 657.6h0M1178.2 657.7h0M973.4 658h0M1331.4 658h0M1284.8 658.2h0M1040.9 658.2h0M1233.4 658.2h0M1118 658.3h0M933.2 658.4h0M998.7 658.4h0M1126.7 658.6h0M1160.4 658.6h0M1064.7 658.7h0M1106.9 658.7h0M1095.9 659.2h0M1286.4 659.2h0M1212.9 659.3h0M1075.4 659.3h0M1006.5 659.8h0M1188.9 659.8h0M1058.1 659.8h0M1270 659.9h0M903.3 659.9h0M945.8 660h0M1021.7 660.2h0M985.1 660.6h0M1146.3 660.7h0M1342.6 660.7h0M1298.5 660.8h0M1273.9 661h0M1030.4 661.1h0M964.3 661.2h0M1089.2 661.2h0M1136.1 661.3h0M943.8 661.4h0M1110.8 661.4h0M1300.7 661.5h0M989.2 661.6h0M1059 661.6h0M1257.6 661.7h0M1039.5 661.8h0M931.8 661.8h0M1090.3 662.1h0M946.5 662.8h0M1020.4 662.9h0M1104.2 662.9h0M1364.5 663h0M1215.1 663.2h0M1203.1 663.4h0M931.8 663.5h0M1257.4 663.5h0M1002.1 663.5h0M1258.7 663.6h0M1210.2 663.7h0M1065.7 663.7h0M1126.4 663.7h0M1081.5 663.7h0M1380.3 664h0M920.7 664.2h0M1142.5 664.2h0M1208.6 664.4h0M1075.4 664.5h0M1201.7 664.6h0M1181.7 664.7h0M1124.6 665.2h0M1266.4 665.3h0M1186.7 665.3h0M1123 665.3h0M1110.7 665.3h0M1007.4 665.5h0M1070 665.6h0M1032.7 665.8h0M1135.4 665.8h0M1415.2 665.9h0M1008 665.9h0M970.7 666h0M1177.3 666.4h0M1230.5 666.6h0M1097.6 666.6h0M1051.6 667.1h0"/>
<path d="M1137 667.5h0M1130.1 667.5h0M1306.4 667.6h0M1149.9 667.6h0M1058.5 667.7h0M1048.8 667.9h0M978.1 668h0M1162.8 668h0M1082.7 668.1h0M1409 668.1h0M895.3 668.2h0M1049.3 668.3h0M1116.8 669h0M1323 669.2h0M914.6 669.2h0M1215.9 669.5h0M1314.9 669.5h0M1335.8 669.6h0M1065.6 669.6h0M1220.8 669.6h0M1216.5 669.6h0M944.7 670.1h0M1222.6 670.1h0M1143.3 670.2h0M1437.9 670.2h0M1121 670.3h0M1038.7 670.3h0M1103.6 670.3h0M941.6 670.4h0M1012 670.6h0M990.8 670.6h0M1083.3 670.6h0M1269.2 670.6h0M1253.9 670.7h0M1288.6 671h0M1094.2 671.2h0M1429.2 671.2h0M1261.4 671.5h0M1076.2 671.5h0M1096.1 671.5h0M1322.5 671.6h0M1013.6 671.8h0M1130.4 671.8h0M1115.3 671.9h0M1139.7 672.1h0M992.4 672.2h0M1105.9 672.2h0M838.4 672.4h0M1082.4 672.5h0M1032 672.6h0M1148.2 672.7h0M987 672.7h0M1047.2 672.7h0M1168.7 672.8h0M1188.2 672.9h0M1160.3 673.2h0M1140.9 673.3h0M1451.1 673.3h0M1090.9 673.4h0M1058.8 673.7h0M970.3 673.9h0M1070 673.9h0M1348.2 674.1h0M1162.4 674.2h0M1069.7 674.5h0M1043.7 674.6h0M1084.1 674.8h0M1236.5 674.8h0M1094.1 674.9h0M1230.8 675h0M1228.3 675h0M977.2 675.2h0M1062.2 675.2h0M1149.2 675.3h0M1122.1 675.5h0M1148.8 675.6h0M1287.5 675.7h0M1336.4 675.8h0M1200 676.1h0M1074.4 676.3h0M1208.1 676.6h0M1129.4 677.1h0M1071.8 677.1h0M894.4 677.2h0M1261.5 677.2h0M1099.9 677.4h0M1246.3 677.4h0M1121.8 677.6h0M1178.6 677.6h0M1134 677.7h0M1018.9 677.8h0M1189.8 677.8h0M1224 677.9h0M1042.7 677.9h0M1020 678.8h0M1116.3 679.3h0M1221.6 679.3h0M930.5 679.8h0M1028.7 679.8h0M1153.5 680h0M1125.8 680h0M1274.6 680.1h0M1191.9 680.4h0M996.3 680.4h0M981.1 680.5h0M1165.2 680.5h0M938.3 680.7h0M1002 680.9h0M1074.7 681.1h0M1188.7 681.5h0M1256.5 681.7h0M940.1 681.7h0M1274.9 681.8h0M1208.5 682h0M932.7 682.3h0M1167.8 682.5h0M1203.2 682.6h0M1083.7 682.9h0M977.1 682.9h0M1222.3 682.9h0M942.9 683h0M1193 683.3h0M1367.8 683.4h0M1173.4 683.9h0M862.3 683.9h0M1279.9 684.1h0M1202.2 684.2h0M1053.7 684.3h0M1085.8 684.4h0M1115.5 684.4h0M1216.7 684.4h0M1157.4 684.8h0M1141 685h0M1314.2 685.1h0M1076.1 685.2h0M1173.5 685.3h0M1031.4 685.5h0M1080.6 685.6h0M1055.2 685.6h0M1109.5 685.7h0M948.9 685.8h0M865.8 686.2h0M1210.2 686.2h0M1009.7 686.2h0M1064.7 686.6h0M999.5 686.6h0M1117.2 686.6h0M1170.9 687.1h0M1016.9 687.2h0M1239.1 687.5h0M1139.8 687.6h0M1093.4 688h0M1071.6 688.3h0M1274.4 688.4h0M1164.4 688.6h0M1011.2 688.6h0M1229.9 688.8h0M1260.7 689.1h0M1056.3 689.2h0M1089.5 689.2h0M997.3 689.3h0M892.6 689.5h0M1260.7 689.7h0M1022.4 689.8h0M1106.3 690h0M1066 690.1h0M1140.5 690.3h0M1342.6 690.4h0M1131.8 690.6h0M1156 690.9h0M1182 690.9h0M1211.9 691h0M1090.7 691.2h0M1359.5 691.2h0M1077.7 691.4h0M1216.3 691.6h0M1312.1 692.3h0M1290.5 692.3h0M1212.8 692.3h0M1325.9 692.7h0M1017.4 692.8h0M1140.9 692.9h0M1006.6 692.9h0M1035.1 693.1h0M1218.6 693.3h0M979.8 693.5h0M1182.5 694h0M1067.4 694.2h0M1034.1 695h0M1012.9 695.3h0M914.8 695.5h0M1159.7 695.9h0M1038.1 696.2h0M1133.9 696.4h0M1240 696.5h0M1127.8 696.5h0M1363 696.8h0M1059.9 697.6h0M1014.7 698h0M1380.8 698h0M979.5 698.2h0M1247.7 698.8h0M1210.4 698.8h0M1030.1 698.8h0M1265 698.8h0M1137.1 699.2h0M1010.5 699.2h0M1098.1 699.4h0M1223.2 700.4h0M1189.1 700.6h0M1185.8 700.7h0M1247 701h0M1022.9 701h0M1193.4 701.1h0M1151.2 701.1h0M1242.1 701.5h0M987.5 701.6h0M991.7 702.5h0M1042.5 702.6h0M1059.9 702.7h0M1084.9 703h0M1177 703.4h0M1309 703.6h0M1143.2 704h0M973.7 704h0M1054.4 704h0M1220.2 704.7h0M984.1 704.8h0M956.1 705.2h0M1372.3 705.3h0M1175.1 705.3h0M928.5 705.6h0M1071.5 705.6h0M1071.2 705.9h0M1208.3 706h0M1130.2 706.2h0M1149.4 706.2h0M1033.1 706.4h0M1204 707.3h0M1154.5 707.5h0M1182.8 707.7h0M1028.7 707.8h0M1241.6 708h0M1132.1 708.3h0M1022 708.8h0M966.1 708.9h0M1011.3 709.2h0M1133.8 709.3h0M1159.7 709.7h0M1038.2 709.8h0M1011.1 711.1h0M1119.2 713.2h0M1065.7 713.3h0M1491.7 713.7h0M947.2 713.8h0M1192.9 713.9h0M1173.3 714.2h0M1045.1 714.6h0M1132.3 714.8h0M1044.2 715.2h0M1214.9 716.3h0M1007.1 717.9h0M1061.9 719.4h0M1084 719.9h0M1216.8 720h0M1041.9 720h0M1434.8 720.1h0M1068.4 720.5h0M1065.7 720.8h0M1153.3 720.9h0M1127 721.4h0M842.7 723.9h0M1077.1 724.1h0M1071.2 725.2h0M1353.3 725.7h0M1074.6 725.7h0M1179.3 726.2h0M1170.2 726.3h0M1186.1 726.5h0M1137.2 726.5h0M1160.3 727.7h0M1101.4 727.9h0M1083.7 730.7h0M970.5 731h0M1225.2 731h0M1123.8 731.6h0M1121.1 731.9h0M975.7 732.1h0M1019 732.5h0M1544.1 732.5h0M1295.1 733.5h0M1090.4 733.5h0M1166.4 734.1h0M900.4 734.2h0M1331.1 734.5h0M1194.2 736.6h0M1289.9 736.6h0M1303.3 736.8h0M1155.1 737.2h0M1146.8 737.6h0M1248.5 737.6h0M1343.6 738h0M965.4 738.2h0M1095.7 738.2h0M1131.1 738.2h0M1168 739.7h0M1196.3 742.4h0M1360.1 743.2h0M1284.1 744h0M1272.4 744.8h0M1392.5 744.8h0M1136.5 745.5h0M1225.6 746.5h0M1245.4 746.9h0M1158.6 747.1h0M1113 750h0M1376.6 750.4h0M1340.3 754.7h0M1129.9 755.2h0M999.6 755.8h0M1250.7 756.6h0M1183.9 757.8h0M1198.4 759.9h0M1146.2 763h0M1149.9 764.4h0M1309.5 764.4h0M1186 765.1h0M1200.8 765.1h0M1173.2 765.7h0M1296.7 766.1h0M1179 768.6h0M1448.7 768.6h0M1239.2 769.4h0M1381.9 769.6h0M1362.5 774.7h0M1186.8 778.5h0M1186.6 782.6h0M1057.9 785.1h0M1117.3 786.3h0M1146.6 787.9h0M1239 788.6h0M1329.5 789.2h0M1309.5 791.6h0M1218.6 796.2h0M1318.1 797.6h0M1352.6 800.1h0M1314 802.6h0M1098.4 803.2h0M1207.8 803.4h0M1156.3 807.5h0M1178.6 809.4h0M1187.8 809.4h0M1242.5 814.1h0M1370.9 816.2h0M1225.4 825.9h0M1177.1 835.2h0M1523.3 840.9h0M1132.2 864.2h0M1288.9 868.1h0M1333.6 884.6h0M1486.2 897.2h0"/>
</g>
<g stroke="#262626" stroke-width="2.1" fill="none" stroke-dasharray="8.9 16.3">
<line x1="200.7" y1="80.4" x2="200.7" y2="946"/>
<line x1="185.0" y1="743.7" x2="1632" y2="743.7"/>
</g>
<ellipse cx="1104.3" cy="516.0" rx="291.4" ry="208.9" transform="rotate(3.26 1104.3 516.0)" fill="none" stroke="#008000" stroke-width="4.3"/>
<line x1="175.51" y1="838.92" x2="381.82" y2="60.00" stroke="#000" stroke-width="4.5" stroke-dasharray="9.1 6.912" stroke-dashoffset="9.3"/>
<rect x="365" y="50" width="30" height="20.299999999999997" fill="#fff"/>
<line x1="177.0" y1="839.4" x2="175.3" y2="846.6" stroke="#000" stroke-width="1.5"/>
<text class="b" transform="translate(168.9 808.9) rotate(-75.16)" font-size="31.6" stroke="#000" stroke-width="0.7">WTP=89358</text>
</svg>
</body>
</html>
